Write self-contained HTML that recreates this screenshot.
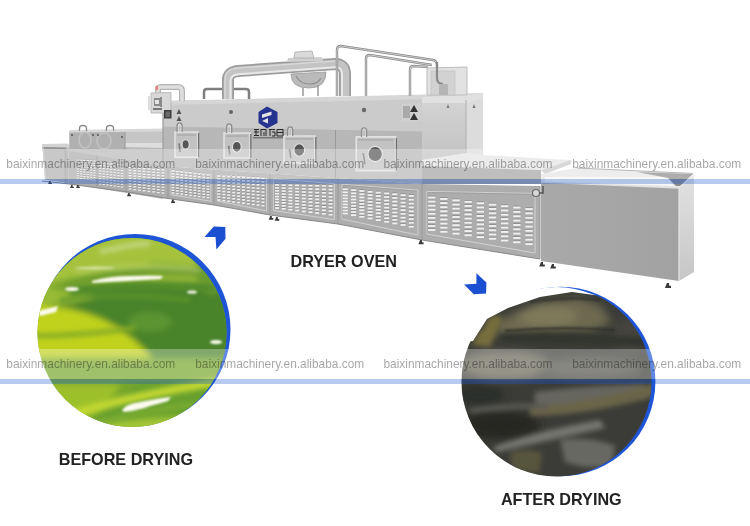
<!DOCTYPE html>
<html><head><meta charset="utf-8">
<style>
html,body{margin:0;padding:0;background:#fff;}
body{width:750px;height:526px;overflow:hidden;position:relative;font-family:"Liberation Sans",sans-serif;}
svg{position:absolute;left:0;top:0;}
</style></head><body>
<svg width="750" height="526" viewBox="0 0 750 526">
<rect width="750" height="526" fill="#fff"/>
<g id="machine">
<defs>
<linearGradient id="sideg" x1="0" y1="0" x2="0" y2="1"><stop offset="0" stop-color="#e2e2e2"/><stop offset="1" stop-color="#c6c6c6"/></linearGradient>
<linearGradient id="exitf" x1="0" y1="0" x2="1" y2="0"><stop offset="0" stop-color="#a9a9a9"/><stop offset="1" stop-color="#a2a2a2"/></linearGradient>
<linearGradient id="pipeg" x1="0" y1="0" x2="0" y2="1"><stop offset="0" stop-color="#9a9a9a"/><stop offset="0.35" stop-color="#e8e8e8"/><stop offset="0.7" stop-color="#c0c0c0"/><stop offset="1" stop-color="#8a8a8a"/></linearGradient>
<linearGradient id="pipev" x1="0" y1="0" x2="1" y2="0"><stop offset="0" stop-color="#9a9a9a"/><stop offset="0.4" stop-color="#e6e6e6"/><stop offset="0.75" stop-color="#bdbdbd"/><stop offset="1" stop-color="#8a8a8a"/></linearGradient>
</defs>
<polygon points="42.4,147 67,147.5 67,183 45,179.8" fill="#b0b0b0" />
<polygon points="42,144 67,143.5 72,146 72,148 42.4,148" fill="#d2d2d2" />
<polygon points="42.4,147 67,147.5 67,149 42.6,148.6" fill="#8e8e8e" />
<polygon points="42.4,147 43.8,147 46.2,179.8 45,179.8" fill="#c4c4c4" />
<polygon points="64.5,148 68,148 68,183 64.5,182.6" fill="#a0a0a0" />
<polygon points="69.5,131 163,129 163,199 66,183 66,148 69.5,148" fill="#b9b9b9" />
<polygon points="69.5,132 125,132.5 125,150 69.5,149" fill="#b0b0b0" />
<polygon points="125,131 163,131 163,143 125,143" fill="#c6c6c6" />
<polygon points="125,143 163,143 163,148 125,147" fill="#dedede" />
<polygon points="69.5,130 163,128.5 163,131.5 69.5,132.5" fill="#d8d8d8" />
<line x1="125" y1="132" x2="125" y2="150" stroke="#9a9a9a" stroke-width="1"/>
<path d="M79.5,131 v-2.5 q0,-3 3.5,-3 q3.5,0 3.5,3 v2.5" fill="none" stroke="#8a8a8a" stroke-width="1.4"/>
<path d="M80.5,131 v-2.5 q0,-2 2.5,-2 q2.5,0 2.5,2 v2.5" fill="none" stroke="#e6e6e6" stroke-width="0.6"/>
<path d="M106.5,131 v-2.5 q0,-3 3.5,-3 q3.5,0 3.5,3 v2.5" fill="none" stroke="#8a8a8a" stroke-width="1.4"/>
<path d="M107.5,131 v-2.5 q0,-2 2.5,-2 q2.5,0 2.5,2 v2.5" fill="none" stroke="#e6e6e6" stroke-width="0.6"/>
<ellipse cx="85" cy="140" rx="6" ry="8" fill="none" stroke="#c2c2c2" stroke-width="1.6"/>
<ellipse cx="104" cy="141" rx="7" ry="8" fill="none" stroke="#c2c2c2" stroke-width="1.6"/>
<circle cx="72" cy="135" r="1" fill="#555"/>
<circle cx="93" cy="135" r="1" fill="#555"/>
<circle cx="98" cy="135" r="1" fill="#555"/>
<circle cx="122" cy="137" r="1" fill="#555"/>
<polygon points="163,101 422,96 422,184 163,166" fill="#b7b7b7" />
<polygon points="163,104 422,99 422,131.5 163,126.5" fill="#cbcbcb" />
<polygon points="163,101 483,93 483,98 163,105" fill="#d6d6d6" />
<line x1="163" y1="101" x2="163" y2="166" stroke="#9a9a9a" stroke-width="1.2"/>
<line x1="335.5" y1="130" x2="335.5" y2="180" stroke="#9a9a9a" stroke-width="1"/>
<linearGradient id="rbf" x1="0" y1="0" x2="0" y2="1"><stop offset="0" stop-color="#d4d4d4"/><stop offset="1" stop-color="#c2c2c2"/></linearGradient>
<polygon points="422,99 466,98 466,154 422,160" fill="url(#rbf)" />
<polygon points="466,98 483,97 483,155 466,154" fill="#dcdcdc" />
<polygon points="422,97 466,95 483,94 483,98 466,103 422,103" fill="#e0e0e0" />
<line x1="466" y1="100" x2="466" y2="154" stroke="#b0b0b0" stroke-width="1"/>
<path d="M448,104 l1.5,4 h-3z M474,104 l1.5,4 h-3z" fill="#777"/>
<polygon points="401,104 421,103 421,121 401,122" fill="#cfcfcf" />
<path d="M414,105 l4,7 h-8z M414,113 l4,7 h-8z" fill="#333"/>
<rect x="403" y="106" width="7" height="12" fill="#aaa"/>
<polygon points="422,160 466,153 483,155 571,160 541,170 422,166" fill="#e4e4e4" />
<polygon points="422,166 541,170 541,184 422,184" fill="#a2a2a2" />
<polygon points="541,170 571,160 571,164 545,174" fill="#c8c8c8" />
<polygon points="69,151 163,166 422,184 540,186 540,259 422,240 338,224 270,215 214,205 168,198.5 128,192 69,184" fill="#adadad" />
<line x1="67" y1="151" x2="67" y2="183.778" stroke="#999" stroke-width="1"/>
<line x1="97" y1="155.468" x2="97" y2="187.797" stroke="#999" stroke-width="1"/>
<line x1="126" y1="160.096" x2="126" y2="191.729" stroke="#999" stroke-width="1"/>
<line x1="168" y1="166.347" x2="168" y2="198.5" stroke="#999" stroke-width="1"/>
<line x1="214" y1="169.544" x2="214" y2="205" stroke="#999" stroke-width="1"/>
<line x1="270" y1="173.436" x2="270" y2="215" stroke="#999" stroke-width="1"/>
<line x1="338" y1="178.162" x2="338" y2="224" stroke="#999" stroke-width="1"/>
<line x1="422" y1="184" x2="422" y2="240" stroke="#999" stroke-width="1"/>
<line x1="540" y1="186" x2="540" y2="259" stroke="#999" stroke-width="1"/>
<polygon points="171.15,171.072 210.85,174.269 210.85,201.22 171.15,194.72" fill="none" stroke="#d2d2d2" stroke-width="1"/>
<polyline points="172.15,193.72 172.15,172.072 209.85,175.269" fill="none" stroke="#9c9c9c" stroke-width="0.8"/>
<polygon points="217.4,174.644 266.6,178.536 266.6,210.92 217.4,200.92" fill="none" stroke="#d2d2d2" stroke-width="1"/>
<polyline points="218.4,199.92 218.4,175.644 265.6,179.536" fill="none" stroke="#9c9c9c" stroke-width="0.8"/>
<polygon points="273.7,178.986 334.3,183.712 334.3,219.56 273.7,210.56" fill="none" stroke="#d2d2d2" stroke-width="1"/>
<polyline points="274.7,209.56 274.7,179.986 333.3,184.712" fill="none" stroke="#9c9c9c" stroke-width="0.8"/>
<polygon points="342.1,184.312 417.9,190.15 417.9,235.08 342.1,219.08" fill="none" stroke="#d2d2d2" stroke-width="1"/>
<polyline points="343.1,218.08 343.1,185.312 416.9,191.15" fill="none" stroke="#9c9c9c" stroke-width="0.8"/>
<polygon points="426.95,191.425 535.05,193.425 535.05,253.06 426.95,234.06" fill="none" stroke="#d2d2d2" stroke-width="1"/>
<polyline points="427.95,233.06 427.95,192.425 534.05,194.425" fill="none" stroke="#9c9c9c" stroke-width="0.8"/>
<g fill="#8e8e8e"><rect x="76.8" y="158.6" width="2.0" height="0.9"/><rect x="76.8" y="160.8" width="2.0" height="0.9"/><rect x="76.8" y="163.1" width="2.0" height="0.9"/><rect x="76.8" y="165.3" width="2.0" height="0.9"/><rect x="76.8" y="167.6" width="2.0" height="0.9"/><rect x="76.8" y="169.8" width="2.0" height="0.9"/><rect x="76.8" y="172.1" width="2.0" height="0.9"/><rect x="76.8" y="174.3" width="2.0" height="0.9"/><rect x="76.8" y="176.6" width="2.0" height="0.9"/><rect x="80.1" y="158.8" width="2.0" height="0.9"/><rect x="80.1" y="161.1" width="2.0" height="0.9"/><rect x="80.1" y="163.3" width="2.0" height="0.9"/><rect x="80.1" y="165.6" width="2.0" height="0.9"/><rect x="80.1" y="167.9" width="2.0" height="0.9"/><rect x="80.1" y="170.2" width="2.0" height="0.9"/><rect x="80.1" y="172.4" width="2.0" height="0.9"/><rect x="80.1" y="174.7" width="2.0" height="0.9"/><rect x="80.1" y="177.0" width="2.0" height="0.9"/><rect x="83.4" y="159.0" width="2.0" height="0.9"/><rect x="83.4" y="161.3" width="2.0" height="0.9"/><rect x="83.4" y="163.6" width="2.0" height="0.9"/><rect x="83.4" y="165.9" width="2.0" height="0.9"/><rect x="83.4" y="168.2" width="2.0" height="0.9"/><rect x="83.4" y="170.5" width="2.0" height="0.9"/><rect x="83.4" y="172.8" width="2.0" height="0.9"/><rect x="83.4" y="175.1" width="2.0" height="0.9"/><rect x="83.4" y="177.4" width="2.0" height="0.9"/><rect x="86.8" y="159.2" width="2.0" height="0.9"/><rect x="86.8" y="161.5" width="2.0" height="0.9"/><rect x="86.8" y="163.8" width="2.0" height="0.9"/><rect x="86.8" y="166.2" width="2.0" height="0.9"/><rect x="86.8" y="168.5" width="2.0" height="0.9"/><rect x="86.8" y="170.8" width="2.0" height="0.9"/><rect x="86.8" y="173.1" width="2.0" height="0.9"/><rect x="86.8" y="175.5" width="2.0" height="0.9"/><rect x="86.8" y="177.8" width="2.0" height="0.9"/><rect x="90.1" y="159.4" width="2.0" height="0.9"/><rect x="90.1" y="161.8" width="2.0" height="0.9"/><rect x="90.1" y="164.1" width="2.0" height="0.9"/><rect x="90.1" y="166.4" width="2.0" height="0.9"/><rect x="90.1" y="168.8" width="2.0" height="0.9"/><rect x="90.1" y="171.2" width="2.0" height="0.9"/><rect x="90.1" y="173.5" width="2.0" height="0.9"/><rect x="90.1" y="175.8" width="2.0" height="0.9"/><rect x="90.1" y="178.2" width="2.0" height="0.9"/><rect x="93.4" y="159.6" width="2.0" height="0.9"/><rect x="93.4" y="162.0" width="2.0" height="0.9"/><rect x="93.4" y="164.3" width="2.0" height="0.9"/><rect x="93.4" y="166.7" width="2.0" height="0.9"/><rect x="93.4" y="169.1" width="2.0" height="0.9"/><rect x="93.4" y="171.5" width="2.0" height="0.9"/><rect x="93.4" y="173.8" width="2.0" height="0.9"/><rect x="93.4" y="176.2" width="2.0" height="0.9"/><rect x="93.4" y="178.6" width="2.0" height="0.9"/><rect x="99.1" y="161.5" width="2.2" height="0.9"/><rect x="99.1" y="164.2" width="2.2" height="0.9"/><rect x="99.1" y="166.8" width="2.2" height="0.9"/><rect x="99.1" y="169.4" width="2.2" height="0.9"/><rect x="99.1" y="172.0" width="2.2" height="0.9"/><rect x="99.1" y="174.7" width="2.2" height="0.9"/><rect x="99.1" y="177.3" width="2.2" height="0.9"/><rect x="99.1" y="179.9" width="2.2" height="0.9"/><rect x="99.1" y="182.5" width="2.2" height="0.9"/><rect x="102.7" y="161.9" width="2.2" height="0.9"/><rect x="102.7" y="164.5" width="2.2" height="0.9"/><rect x="102.7" y="167.2" width="2.2" height="0.9"/><rect x="102.7" y="169.8" width="2.2" height="0.9"/><rect x="102.7" y="172.5" width="2.2" height="0.9"/><rect x="102.7" y="175.1" width="2.2" height="0.9"/><rect x="102.7" y="177.8" width="2.2" height="0.9"/><rect x="102.7" y="180.4" width="2.2" height="0.9"/><rect x="102.7" y="183.0" width="2.2" height="0.9"/><rect x="106.4" y="162.2" width="2.2" height="0.9"/><rect x="106.4" y="164.9" width="2.2" height="0.9"/><rect x="106.4" y="167.5" width="2.2" height="0.9"/><rect x="106.4" y="170.2" width="2.2" height="0.9"/><rect x="106.4" y="172.9" width="2.2" height="0.9"/><rect x="106.4" y="175.5" width="2.2" height="0.9"/><rect x="106.4" y="178.2" width="2.2" height="0.9"/><rect x="106.4" y="180.9" width="2.2" height="0.9"/><rect x="106.4" y="183.5" width="2.2" height="0.9"/><rect x="110.0" y="162.5" width="2.2" height="0.9"/><rect x="110.0" y="165.2" width="2.2" height="0.9"/><rect x="110.0" y="167.9" width="2.2" height="0.9"/><rect x="110.0" y="170.6" width="2.2" height="0.9"/><rect x="110.0" y="173.3" width="2.2" height="0.9"/><rect x="110.0" y="176.0" width="2.2" height="0.9"/><rect x="110.0" y="178.7" width="2.2" height="0.9"/><rect x="110.0" y="181.4" width="2.2" height="0.9"/><rect x="110.0" y="184.0" width="2.2" height="0.9"/><rect x="113.6" y="162.9" width="2.2" height="0.9"/><rect x="113.6" y="165.6" width="2.2" height="0.9"/><rect x="113.6" y="168.3" width="2.2" height="0.9"/><rect x="113.6" y="171.0" width="2.2" height="0.9"/><rect x="113.6" y="173.7" width="2.2" height="0.9"/><rect x="113.6" y="176.4" width="2.2" height="0.9"/><rect x="113.6" y="179.1" width="2.2" height="0.9"/><rect x="113.6" y="181.8" width="2.2" height="0.9"/><rect x="113.6" y="184.5" width="2.2" height="0.9"/><rect x="117.3" y="163.2" width="2.2" height="0.9"/><rect x="117.3" y="165.9" width="2.2" height="0.9"/><rect x="117.3" y="168.7" width="2.2" height="0.9"/><rect x="117.3" y="171.4" width="2.2" height="0.9"/><rect x="117.3" y="174.1" width="2.2" height="0.9"/><rect x="117.3" y="176.9" width="2.2" height="0.9"/><rect x="117.3" y="179.6" width="2.2" height="0.9"/><rect x="117.3" y="182.3" width="2.2" height="0.9"/><rect x="117.3" y="185.0" width="2.2" height="0.9"/><rect x="120.9" y="163.5" width="2.2" height="0.9"/><rect x="120.9" y="166.3" width="2.2" height="0.9"/><rect x="120.9" y="169.0" width="2.2" height="0.9"/><rect x="120.9" y="171.8" width="2.2" height="0.9"/><rect x="120.9" y="174.5" width="2.2" height="0.9"/><rect x="120.9" y="177.3" width="2.2" height="0.9"/><rect x="120.9" y="180.0" width="2.2" height="0.9"/><rect x="120.9" y="182.8" width="2.2" height="0.9"/><rect x="120.9" y="185.5" width="2.2" height="0.9"/><rect x="128.6" y="166.0" width="2.8" height="0.9"/><rect x="128.6" y="168.7" width="2.8" height="0.9"/><rect x="128.6" y="171.4" width="2.8" height="0.9"/><rect x="128.6" y="174.1" width="2.8" height="0.9"/><rect x="128.6" y="176.8" width="2.8" height="0.9"/><rect x="128.6" y="179.4" width="2.8" height="0.9"/><rect x="128.6" y="182.1" width="2.8" height="0.9"/><rect x="128.6" y="184.8" width="2.8" height="0.9"/><rect x="128.6" y="187.4" width="2.8" height="0.9"/><rect x="133.3" y="166.4" width="2.8" height="0.9"/><rect x="133.3" y="169.1" width="2.8" height="0.9"/><rect x="133.3" y="171.8" width="2.8" height="0.9"/><rect x="133.3" y="174.5" width="2.8" height="0.9"/><rect x="133.3" y="177.2" width="2.8" height="0.9"/><rect x="133.3" y="179.9" width="2.8" height="0.9"/><rect x="133.3" y="182.6" width="2.8" height="0.9"/><rect x="133.3" y="185.3" width="2.8" height="0.9"/><rect x="133.3" y="188.0" width="2.8" height="0.9"/><rect x="138.0" y="166.7" width="2.8" height="0.9"/><rect x="138.0" y="169.5" width="2.8" height="0.9"/><rect x="138.0" y="172.2" width="2.8" height="0.9"/><rect x="138.0" y="174.9" width="2.8" height="0.9"/><rect x="138.0" y="177.7" width="2.8" height="0.9"/><rect x="138.0" y="180.4" width="2.8" height="0.9"/><rect x="138.0" y="183.1" width="2.8" height="0.9"/><rect x="138.0" y="185.9" width="2.8" height="0.9"/><rect x="138.0" y="188.6" width="2.8" height="0.9"/><rect x="142.7" y="167.1" width="2.8" height="0.9"/><rect x="142.7" y="169.8" width="2.8" height="0.9"/><rect x="142.7" y="172.6" width="2.8" height="0.9"/><rect x="142.7" y="175.4" width="2.8" height="0.9"/><rect x="142.7" y="178.1" width="2.8" height="0.9"/><rect x="142.7" y="180.9" width="2.8" height="0.9"/><rect x="142.7" y="183.6" width="2.8" height="0.9"/><rect x="142.7" y="186.4" width="2.8" height="0.9"/><rect x="142.7" y="189.2" width="2.8" height="0.9"/><rect x="147.4" y="167.4" width="2.8" height="0.9"/><rect x="147.4" y="170.2" width="2.8" height="0.9"/><rect x="147.4" y="173.0" width="2.8" height="0.9"/><rect x="147.4" y="175.8" width="2.8" height="0.9"/><rect x="147.4" y="178.6" width="2.8" height="0.9"/><rect x="147.4" y="181.4" width="2.8" height="0.9"/><rect x="147.4" y="184.2" width="2.8" height="0.9"/><rect x="147.4" y="186.9" width="2.8" height="0.9"/><rect x="147.4" y="189.7" width="2.8" height="0.9"/><rect x="152.2" y="167.8" width="2.8" height="0.9"/><rect x="152.2" y="170.6" width="2.8" height="0.9"/><rect x="152.2" y="173.4" width="2.8" height="0.9"/><rect x="152.2" y="176.2" width="2.8" height="0.9"/><rect x="152.2" y="179.0" width="2.8" height="0.9"/><rect x="152.2" y="181.9" width="2.8" height="0.9"/><rect x="152.2" y="184.7" width="2.8" height="0.9"/><rect x="152.2" y="187.5" width="2.8" height="0.9"/><rect x="152.2" y="190.3" width="2.8" height="0.9"/><rect x="156.9" y="168.1" width="2.8" height="0.9"/><rect x="156.9" y="171.0" width="2.8" height="0.9"/><rect x="156.9" y="173.8" width="2.8" height="0.9"/><rect x="156.9" y="176.6" width="2.8" height="0.9"/><rect x="156.9" y="179.5" width="2.8" height="0.9"/><rect x="156.9" y="182.3" width="2.8" height="0.9"/><rect x="156.9" y="185.2" width="2.8" height="0.9"/><rect x="156.9" y="188.0" width="2.8" height="0.9"/><rect x="156.9" y="190.9" width="2.8" height="0.9"/><rect x="161.6" y="168.4" width="2.8" height="0.9"/><rect x="161.6" y="171.3" width="2.8" height="0.9"/><rect x="161.6" y="174.2" width="2.8" height="0.9"/><rect x="161.6" y="177.1" width="2.8" height="0.9"/><rect x="161.6" y="179.9" width="2.8" height="0.9"/><rect x="161.6" y="182.8" width="2.8" height="0.9"/><rect x="161.6" y="185.7" width="2.8" height="0.9"/><rect x="161.6" y="188.6" width="2.8" height="0.9"/><rect x="161.6" y="191.4" width="2.8" height="0.9"/><rect x="171.7" y="169.3" width="2.6" height="0.9"/><rect x="171.7" y="172.1" width="2.6" height="0.9"/><rect x="171.7" y="174.8" width="2.6" height="0.9"/><rect x="171.7" y="177.6" width="2.6" height="0.9"/><rect x="171.7" y="180.3" width="2.6" height="0.9"/><rect x="171.7" y="183.1" width="2.6" height="0.9"/><rect x="171.7" y="185.8" width="2.6" height="0.9"/><rect x="171.7" y="188.6" width="2.6" height="0.9"/><rect x="171.7" y="191.3" width="2.6" height="0.9"/><rect x="176.1" y="169.8" width="2.6" height="0.9"/><rect x="176.1" y="172.6" width="2.6" height="0.9"/><rect x="176.1" y="175.4" width="2.6" height="0.9"/><rect x="176.1" y="178.1" width="2.6" height="0.9"/><rect x="176.1" y="180.9" width="2.6" height="0.9"/><rect x="176.1" y="183.6" width="2.6" height="0.9"/><rect x="176.1" y="186.4" width="2.6" height="0.9"/><rect x="176.1" y="189.2" width="2.6" height="0.9"/><rect x="176.1" y="191.9" width="2.6" height="0.9"/><rect x="180.4" y="170.3" width="2.6" height="0.9"/><rect x="180.4" y="173.1" width="2.6" height="0.9"/><rect x="180.4" y="175.9" width="2.6" height="0.9"/><rect x="180.4" y="178.7" width="2.6" height="0.9"/><rect x="180.4" y="181.4" width="2.6" height="0.9"/><rect x="180.4" y="184.2" width="2.6" height="0.9"/><rect x="180.4" y="187.0" width="2.6" height="0.9"/><rect x="180.4" y="189.7" width="2.6" height="0.9"/><rect x="180.4" y="192.5" width="2.6" height="0.9"/><rect x="184.8" y="170.8" width="2.6" height="0.9"/><rect x="184.8" y="173.6" width="2.6" height="0.9"/><rect x="184.8" y="176.4" width="2.6" height="0.9"/><rect x="184.8" y="179.2" width="2.6" height="0.9"/><rect x="184.8" y="182.0" width="2.6" height="0.9"/><rect x="184.8" y="184.7" width="2.6" height="0.9"/><rect x="184.8" y="187.5" width="2.6" height="0.9"/><rect x="184.8" y="190.3" width="2.6" height="0.9"/><rect x="184.8" y="193.1" width="2.6" height="0.9"/><rect x="189.2" y="171.3" width="2.6" height="0.9"/><rect x="189.2" y="174.1" width="2.6" height="0.9"/><rect x="189.2" y="176.9" width="2.6" height="0.9"/><rect x="189.2" y="179.7" width="2.6" height="0.9"/><rect x="189.2" y="182.5" width="2.6" height="0.9"/><rect x="189.2" y="185.3" width="2.6" height="0.9"/><rect x="189.2" y="188.1" width="2.6" height="0.9"/><rect x="189.2" y="190.9" width="2.6" height="0.9"/><rect x="189.2" y="193.7" width="2.6" height="0.9"/><rect x="193.6" y="171.8" width="2.6" height="0.9"/><rect x="193.6" y="174.6" width="2.6" height="0.9"/><rect x="193.6" y="177.4" width="2.6" height="0.9"/><rect x="193.6" y="180.2" width="2.6" height="0.9"/><rect x="193.6" y="183.0" width="2.6" height="0.9"/><rect x="193.6" y="185.8" width="2.6" height="0.9"/><rect x="193.6" y="188.6" width="2.6" height="0.9"/><rect x="193.6" y="191.4" width="2.6" height="0.9"/><rect x="193.6" y="194.2" width="2.6" height="0.9"/><rect x="197.9" y="172.3" width="2.6" height="0.9"/><rect x="197.9" y="175.2" width="2.6" height="0.9"/><rect x="197.9" y="178.0" width="2.6" height="0.9"/><rect x="197.9" y="180.8" width="2.6" height="0.9"/><rect x="197.9" y="183.6" width="2.6" height="0.9"/><rect x="197.9" y="186.4" width="2.6" height="0.9"/><rect x="197.9" y="189.2" width="2.6" height="0.9"/><rect x="197.9" y="192.0" width="2.6" height="0.9"/><rect x="197.9" y="194.8" width="2.6" height="0.9"/><rect x="202.3" y="172.8" width="2.6" height="0.9"/><rect x="202.3" y="175.7" width="2.6" height="0.9"/><rect x="202.3" y="178.5" width="2.6" height="0.9"/><rect x="202.3" y="181.3" width="2.6" height="0.9"/><rect x="202.3" y="184.1" width="2.6" height="0.9"/><rect x="202.3" y="186.9" width="2.6" height="0.9"/><rect x="202.3" y="189.7" width="2.6" height="0.9"/><rect x="202.3" y="192.6" width="2.6" height="0.9"/><rect x="202.3" y="195.4" width="2.6" height="0.9"/><rect x="206.7" y="173.3" width="2.6" height="0.9"/><rect x="206.7" y="176.2" width="2.6" height="0.9"/><rect x="206.7" y="179.0" width="2.6" height="0.9"/><rect x="206.7" y="181.8" width="2.6" height="0.9"/><rect x="206.7" y="184.7" width="2.6" height="0.9"/><rect x="206.7" y="187.5" width="2.6" height="0.9"/><rect x="206.7" y="190.3" width="2.6" height="0.9"/><rect x="206.7" y="193.1" width="2.6" height="0.9"/><rect x="206.7" y="195.9" width="2.6" height="0.9"/><rect x="217.5" y="174.3" width="2.9" height="0.9"/><rect x="217.5" y="177.3" width="2.9" height="0.9"/><rect x="217.5" y="180.3" width="2.9" height="0.9"/><rect x="217.5" y="183.3" width="2.9" height="0.9"/><rect x="217.5" y="186.3" width="2.9" height="0.9"/><rect x="217.5" y="189.3" width="2.9" height="0.9"/><rect x="217.5" y="192.3" width="2.9" height="0.9"/><rect x="217.5" y="195.3" width="2.9" height="0.9"/><rect x="217.5" y="198.3" width="2.9" height="0.9"/><rect x="222.4" y="174.6" width="2.9" height="0.9"/><rect x="222.4" y="177.6" width="2.9" height="0.9"/><rect x="222.4" y="180.7" width="2.9" height="0.9"/><rect x="222.4" y="183.7" width="2.9" height="0.9"/><rect x="222.4" y="186.7" width="2.9" height="0.9"/><rect x="222.4" y="189.8" width="2.9" height="0.9"/><rect x="222.4" y="192.8" width="2.9" height="0.9"/><rect x="222.4" y="195.9" width="2.9" height="0.9"/><rect x="222.4" y="198.9" width="2.9" height="0.9"/><rect x="227.3" y="174.8" width="2.9" height="0.9"/><rect x="227.3" y="177.9" width="2.9" height="0.9"/><rect x="227.3" y="181.0" width="2.9" height="0.9"/><rect x="227.3" y="184.1" width="2.9" height="0.9"/><rect x="227.3" y="187.2" width="2.9" height="0.9"/><rect x="227.3" y="190.3" width="2.9" height="0.9"/><rect x="227.3" y="193.4" width="2.9" height="0.9"/><rect x="227.3" y="196.5" width="2.9" height="0.9"/><rect x="227.3" y="199.5" width="2.9" height="0.9"/><rect x="232.2" y="175.1" width="2.9" height="0.9"/><rect x="232.2" y="178.2" width="2.9" height="0.9"/><rect x="232.2" y="181.4" width="2.9" height="0.9"/><rect x="232.2" y="184.5" width="2.9" height="0.9"/><rect x="232.2" y="187.6" width="2.9" height="0.9"/><rect x="232.2" y="190.8" width="2.9" height="0.9"/><rect x="232.2" y="193.9" width="2.9" height="0.9"/><rect x="232.2" y="197.0" width="2.9" height="0.9"/><rect x="232.2" y="200.2" width="2.9" height="0.9"/><rect x="237.1" y="175.4" width="2.9" height="0.9"/><rect x="237.1" y="178.5" width="2.9" height="0.9"/><rect x="237.1" y="181.7" width="2.9" height="0.9"/><rect x="237.1" y="184.9" width="2.9" height="0.9"/><rect x="237.1" y="188.1" width="2.9" height="0.9"/><rect x="237.1" y="191.3" width="2.9" height="0.9"/><rect x="237.1" y="194.4" width="2.9" height="0.9"/><rect x="237.1" y="197.6" width="2.9" height="0.9"/><rect x="237.1" y="200.8" width="2.9" height="0.9"/><rect x="242.0" y="175.6" width="2.9" height="0.9"/><rect x="242.0" y="178.9" width="2.9" height="0.9"/><rect x="242.0" y="182.1" width="2.9" height="0.9"/><rect x="242.0" y="185.3" width="2.9" height="0.9"/><rect x="242.0" y="188.5" width="2.9" height="0.9"/><rect x="242.0" y="191.7" width="2.9" height="0.9"/><rect x="242.0" y="195.0" width="2.9" height="0.9"/><rect x="242.0" y="198.2" width="2.9" height="0.9"/><rect x="242.0" y="201.4" width="2.9" height="0.9"/><rect x="246.9" y="175.9" width="2.9" height="0.9"/><rect x="246.9" y="179.2" width="2.9" height="0.9"/><rect x="246.9" y="182.4" width="2.9" height="0.9"/><rect x="246.9" y="185.7" width="2.9" height="0.9"/><rect x="246.9" y="189.0" width="2.9" height="0.9"/><rect x="246.9" y="192.2" width="2.9" height="0.9"/><rect x="246.9" y="195.5" width="2.9" height="0.9"/><rect x="246.9" y="198.8" width="2.9" height="0.9"/><rect x="246.9" y="202.0" width="2.9" height="0.9"/><rect x="251.8" y="176.2" width="2.9" height="0.9"/><rect x="251.8" y="179.5" width="2.9" height="0.9"/><rect x="251.8" y="182.8" width="2.9" height="0.9"/><rect x="251.8" y="186.1" width="2.9" height="0.9"/><rect x="251.8" y="189.4" width="2.9" height="0.9"/><rect x="251.8" y="192.7" width="2.9" height="0.9"/><rect x="251.8" y="196.0" width="2.9" height="0.9"/><rect x="251.8" y="199.3" width="2.9" height="0.9"/><rect x="251.8" y="202.7" width="2.9" height="0.9"/><rect x="256.6" y="176.4" width="2.9" height="0.9"/><rect x="256.6" y="179.8" width="2.9" height="0.9"/><rect x="256.6" y="183.1" width="2.9" height="0.9"/><rect x="256.6" y="186.5" width="2.9" height="0.9"/><rect x="256.6" y="189.9" width="2.9" height="0.9"/><rect x="256.6" y="193.2" width="2.9" height="0.9"/><rect x="256.6" y="196.6" width="2.9" height="0.9"/><rect x="256.6" y="199.9" width="2.9" height="0.9"/><rect x="256.6" y="203.3" width="2.9" height="0.9"/><rect x="261.5" y="176.7" width="2.9" height="0.9"/><rect x="261.5" y="180.1" width="2.9" height="0.9"/><rect x="261.5" y="183.5" width="2.9" height="0.9"/><rect x="261.5" y="186.9" width="2.9" height="0.9"/><rect x="261.5" y="190.3" width="2.9" height="0.9"/><rect x="261.5" y="193.7" width="2.9" height="0.9"/><rect x="261.5" y="197.1" width="2.9" height="0.9"/><rect x="261.5" y="200.5" width="2.9" height="0.9"/><rect x="261.5" y="203.9" width="2.9" height="0.9"/><rect x="275.0" y="183.2" width="4.0" height="0.9"/><rect x="275.0" y="186.1" width="4.0" height="0.9"/><rect x="275.0" y="189.0" width="4.0" height="0.9"/><rect x="275.0" y="191.9" width="4.0" height="0.9"/><rect x="275.0" y="194.8" width="4.0" height="0.9"/><rect x="275.0" y="197.6" width="4.0" height="0.9"/><rect x="275.0" y="200.5" width="4.0" height="0.9"/><rect x="275.0" y="203.4" width="4.0" height="0.9"/><rect x="275.0" y="206.2" width="4.0" height="0.9"/><rect x="281.7" y="183.4" width="4.0" height="0.9"/><rect x="281.7" y="186.3" width="4.0" height="0.9"/><rect x="281.7" y="189.3" width="4.0" height="0.9"/><rect x="281.7" y="192.3" width="4.0" height="0.9"/><rect x="281.7" y="195.2" width="4.0" height="0.9"/><rect x="281.7" y="198.2" width="4.0" height="0.9"/><rect x="281.7" y="201.1" width="4.0" height="0.9"/><rect x="281.7" y="204.1" width="4.0" height="0.9"/><rect x="281.7" y="207.1" width="4.0" height="0.9"/><rect x="288.4" y="183.5" width="4.0" height="0.9"/><rect x="288.4" y="186.6" width="4.0" height="0.9"/><rect x="288.4" y="189.6" width="4.0" height="0.9"/><rect x="288.4" y="192.7" width="4.0" height="0.9"/><rect x="288.4" y="195.7" width="4.0" height="0.9"/><rect x="288.4" y="198.8" width="4.0" height="0.9"/><rect x="288.4" y="201.8" width="4.0" height="0.9"/><rect x="288.4" y="204.8" width="4.0" height="0.9"/><rect x="288.4" y="207.9" width="4.0" height="0.9"/><rect x="295.1" y="183.6" width="4.0" height="0.9"/><rect x="295.1" y="186.8" width="4.0" height="0.9"/><rect x="295.1" y="189.9" width="4.0" height="0.9"/><rect x="295.1" y="193.0" width="4.0" height="0.9"/><rect x="295.1" y="196.2" width="4.0" height="0.9"/><rect x="295.1" y="199.3" width="4.0" height="0.9"/><rect x="295.1" y="202.4" width="4.0" height="0.9"/><rect x="295.1" y="205.6" width="4.0" height="0.9"/><rect x="295.1" y="208.7" width="4.0" height="0.9"/><rect x="301.8" y="183.8" width="4.0" height="0.9"/><rect x="301.8" y="187.0" width="4.0" height="0.9"/><rect x="301.8" y="190.2" width="4.0" height="0.9"/><rect x="301.8" y="193.4" width="4.0" height="0.9"/><rect x="301.8" y="196.7" width="4.0" height="0.9"/><rect x="301.8" y="199.9" width="4.0" height="0.9"/><rect x="301.8" y="203.1" width="4.0" height="0.9"/><rect x="301.8" y="206.3" width="4.0" height="0.9"/><rect x="301.8" y="209.6" width="4.0" height="0.9"/><rect x="308.5" y="183.9" width="4.0" height="0.9"/><rect x="308.5" y="187.2" width="4.0" height="0.9"/><rect x="308.5" y="190.5" width="4.0" height="0.9"/><rect x="308.5" y="193.8" width="4.0" height="0.9"/><rect x="308.5" y="197.1" width="4.0" height="0.9"/><rect x="308.5" y="200.4" width="4.0" height="0.9"/><rect x="308.5" y="203.8" width="4.0" height="0.9"/><rect x="308.5" y="207.1" width="4.0" height="0.9"/><rect x="308.5" y="210.4" width="4.0" height="0.9"/><rect x="315.2" y="184.0" width="4.0" height="0.9"/><rect x="315.2" y="187.4" width="4.0" height="0.9"/><rect x="315.2" y="190.8" width="4.0" height="0.9"/><rect x="315.2" y="194.2" width="4.0" height="0.9"/><rect x="315.2" y="197.6" width="4.0" height="0.9"/><rect x="315.2" y="201.0" width="4.0" height="0.9"/><rect x="315.2" y="204.4" width="4.0" height="0.9"/><rect x="315.2" y="207.8" width="4.0" height="0.9"/><rect x="315.2" y="211.2" width="4.0" height="0.9"/><rect x="321.9" y="184.1" width="4.0" height="0.9"/><rect x="321.9" y="187.6" width="4.0" height="0.9"/><rect x="321.9" y="191.1" width="4.0" height="0.9"/><rect x="321.9" y="194.6" width="4.0" height="0.9"/><rect x="321.9" y="198.1" width="4.0" height="0.9"/><rect x="321.9" y="201.6" width="4.0" height="0.9"/><rect x="321.9" y="205.1" width="4.0" height="0.9"/><rect x="321.9" y="208.5" width="4.0" height="0.9"/><rect x="321.9" y="212.0" width="4.0" height="0.9"/><rect x="328.6" y="184.2" width="4.0" height="0.9"/><rect x="328.6" y="187.8" width="4.0" height="0.9"/><rect x="328.6" y="191.4" width="4.0" height="0.9"/><rect x="328.6" y="195.0" width="4.0" height="0.9"/><rect x="328.6" y="198.6" width="4.0" height="0.9"/><rect x="328.6" y="202.1" width="4.0" height="0.9"/><rect x="328.6" y="205.7" width="4.0" height="0.9"/><rect x="328.6" y="209.3" width="4.0" height="0.9"/><rect x="328.6" y="212.8" width="4.0" height="0.9"/><rect x="342.8" y="187.5" width="5.0" height="0.9"/><rect x="342.8" y="190.5" width="5.0" height="0.9"/><rect x="342.8" y="193.6" width="5.0" height="0.9"/><rect x="342.8" y="196.6" width="5.0" height="0.9"/><rect x="342.8" y="199.6" width="5.0" height="0.9"/><rect x="342.8" y="202.6" width="5.0" height="0.9"/><rect x="342.8" y="205.6" width="5.0" height="0.9"/><rect x="342.8" y="208.7" width="5.0" height="0.9"/><rect x="342.8" y="211.7" width="5.0" height="0.9"/><rect x="351.1" y="188.3" width="5.0" height="0.9"/><rect x="351.1" y="191.5" width="5.0" height="0.9"/><rect x="351.1" y="194.6" width="5.0" height="0.9"/><rect x="351.1" y="197.7" width="5.0" height="0.9"/><rect x="351.1" y="200.8" width="5.0" height="0.9"/><rect x="351.1" y="204.0" width="5.0" height="0.9"/><rect x="351.1" y="207.1" width="5.0" height="0.9"/><rect x="351.1" y="210.2" width="5.0" height="0.9"/><rect x="351.1" y="213.3" width="5.0" height="0.9"/><rect x="359.3" y="189.2" width="5.0" height="0.9"/><rect x="359.3" y="192.4" width="5.0" height="0.9"/><rect x="359.3" y="195.6" width="5.0" height="0.9"/><rect x="359.3" y="198.8" width="5.0" height="0.9"/><rect x="359.3" y="202.1" width="5.0" height="0.9"/><rect x="359.3" y="205.3" width="5.0" height="0.9"/><rect x="359.3" y="208.5" width="5.0" height="0.9"/><rect x="359.3" y="211.8" width="5.0" height="0.9"/><rect x="359.3" y="215.0" width="5.0" height="0.9"/><rect x="367.6" y="190.0" width="5.0" height="0.9"/><rect x="367.6" y="193.3" width="5.0" height="0.9"/><rect x="367.6" y="196.6" width="5.0" height="0.9"/><rect x="367.6" y="200.0" width="5.0" height="0.9"/><rect x="367.6" y="203.3" width="5.0" height="0.9"/><rect x="367.6" y="206.6" width="5.0" height="0.9"/><rect x="367.6" y="210.0" width="5.0" height="0.9"/><rect x="367.6" y="213.3" width="5.0" height="0.9"/><rect x="367.6" y="216.6" width="5.0" height="0.9"/><rect x="375.8" y="190.8" width="5.0" height="0.9"/><rect x="375.8" y="194.2" width="5.0" height="0.9"/><rect x="375.8" y="197.7" width="5.0" height="0.9"/><rect x="375.8" y="201.1" width="5.0" height="0.9"/><rect x="375.8" y="204.6" width="5.0" height="0.9"/><rect x="375.8" y="208.0" width="5.0" height="0.9"/><rect x="375.8" y="211.4" width="5.0" height="0.9"/><rect x="375.8" y="214.9" width="5.0" height="0.9"/><rect x="375.8" y="218.3" width="5.0" height="0.9"/><rect x="384.1" y="191.6" width="5.0" height="0.9"/><rect x="384.1" y="195.2" width="5.0" height="0.9"/><rect x="384.1" y="198.7" width="5.0" height="0.9"/><rect x="384.1" y="202.2" width="5.0" height="0.9"/><rect x="384.1" y="205.8" width="5.0" height="0.9"/><rect x="384.1" y="209.3" width="5.0" height="0.9"/><rect x="384.1" y="212.9" width="5.0" height="0.9"/><rect x="384.1" y="216.4" width="5.0" height="0.9"/><rect x="384.1" y="219.9" width="5.0" height="0.9"/><rect x="392.3" y="192.4" width="5.0" height="0.9"/><rect x="392.3" y="196.1" width="5.0" height="0.9"/><rect x="392.3" y="199.7" width="5.0" height="0.9"/><rect x="392.3" y="203.4" width="5.0" height="0.9"/><rect x="392.3" y="207.0" width="5.0" height="0.9"/><rect x="392.3" y="210.7" width="5.0" height="0.9"/><rect x="392.3" y="214.3" width="5.0" height="0.9"/><rect x="392.3" y="218.0" width="5.0" height="0.9"/><rect x="392.3" y="221.6" width="5.0" height="0.9"/><rect x="400.6" y="193.3" width="5.0" height="0.9"/><rect x="400.6" y="197.0" width="5.0" height="0.9"/><rect x="400.6" y="200.8" width="5.0" height="0.9"/><rect x="400.6" y="204.5" width="5.0" height="0.9"/><rect x="400.6" y="208.3" width="5.0" height="0.9"/><rect x="400.6" y="212.0" width="5.0" height="0.9"/><rect x="400.6" y="215.8" width="5.0" height="0.9"/><rect x="400.6" y="219.5" width="5.0" height="0.9"/><rect x="400.6" y="223.2" width="5.0" height="0.9"/><rect x="408.8" y="194.1" width="5.0" height="0.9"/><rect x="408.8" y="197.9" width="5.0" height="0.9"/><rect x="408.8" y="201.8" width="5.0" height="0.9"/><rect x="408.8" y="205.6" width="5.0" height="0.9"/><rect x="408.8" y="209.5" width="5.0" height="0.9"/><rect x="408.8" y="213.3" width="5.0" height="0.9"/><rect x="408.8" y="217.2" width="5.0" height="0.9"/><rect x="408.8" y="221.0" width="5.0" height="0.9"/><rect x="408.8" y="224.9" width="5.0" height="0.9"/><rect x="428.1" y="195.7" width="7.3" height="0.9"/><rect x="428.1" y="199.7" width="7.3" height="0.9"/><rect x="428.1" y="203.8" width="7.3" height="0.9"/><rect x="428.1" y="207.8" width="7.3" height="0.9"/><rect x="428.1" y="211.9" width="7.3" height="0.9"/><rect x="428.1" y="216.0" width="7.3" height="0.9"/><rect x="428.1" y="220.0" width="7.3" height="0.9"/><rect x="428.1" y="224.1" width="7.3" height="0.9"/><rect x="428.1" y="228.2" width="7.3" height="0.9"/><rect x="440.2" y="197.1" width="7.3" height="0.9"/><rect x="440.2" y="201.2" width="7.3" height="0.9"/><rect x="440.2" y="205.3" width="7.3" height="0.9"/><rect x="440.2" y="209.4" width="7.3" height="0.9"/><rect x="440.2" y="213.5" width="7.3" height="0.9"/><rect x="440.2" y="217.6" width="7.3" height="0.9"/><rect x="440.2" y="221.7" width="7.3" height="0.9"/><rect x="440.2" y="225.8" width="7.3" height="0.9"/><rect x="440.2" y="229.9" width="7.3" height="0.9"/><rect x="452.4" y="198.5" width="7.3" height="0.9"/><rect x="452.4" y="202.7" width="7.3" height="0.9"/><rect x="452.4" y="206.8" width="7.3" height="0.9"/><rect x="452.4" y="210.9" width="7.3" height="0.9"/><rect x="452.4" y="215.1" width="7.3" height="0.9"/><rect x="452.4" y="219.2" width="7.3" height="0.9"/><rect x="452.4" y="223.4" width="7.3" height="0.9"/><rect x="452.4" y="227.5" width="7.3" height="0.9"/><rect x="452.4" y="231.7" width="7.3" height="0.9"/><rect x="464.5" y="200.0" width="7.3" height="0.9"/><rect x="464.5" y="204.1" width="7.3" height="0.9"/><rect x="464.5" y="208.3" width="7.3" height="0.9"/><rect x="464.5" y="212.5" width="7.3" height="0.9"/><rect x="464.5" y="216.7" width="7.3" height="0.9"/><rect x="464.5" y="220.9" width="7.3" height="0.9"/><rect x="464.5" y="225.0" width="7.3" height="0.9"/><rect x="464.5" y="229.2" width="7.3" height="0.9"/><rect x="464.5" y="233.4" width="7.3" height="0.9"/><rect x="476.7" y="201.4" width="7.3" height="0.9"/><rect x="476.7" y="205.6" width="7.3" height="0.9"/><rect x="476.7" y="209.8" width="7.3" height="0.9"/><rect x="476.7" y="214.1" width="7.3" height="0.9"/><rect x="476.7" y="218.3" width="7.3" height="0.9"/><rect x="476.7" y="222.5" width="7.3" height="0.9"/><rect x="476.7" y="226.7" width="7.3" height="0.9"/><rect x="476.7" y="230.9" width="7.3" height="0.9"/><rect x="476.7" y="235.2" width="7.3" height="0.9"/><rect x="488.9" y="202.8" width="7.3" height="0.9"/><rect x="488.9" y="207.1" width="7.3" height="0.9"/><rect x="488.9" y="211.4" width="7.3" height="0.9"/><rect x="488.9" y="215.6" width="7.3" height="0.9"/><rect x="488.9" y="219.9" width="7.3" height="0.9"/><rect x="488.9" y="224.1" width="7.3" height="0.9"/><rect x="488.9" y="228.4" width="7.3" height="0.9"/><rect x="488.9" y="232.6" width="7.3" height="0.9"/><rect x="488.9" y="236.9" width="7.3" height="0.9"/><rect x="501.0" y="204.3" width="7.3" height="0.9"/><rect x="501.0" y="208.6" width="7.3" height="0.9"/><rect x="501.0" y="212.9" width="7.3" height="0.9"/><rect x="501.0" y="217.2" width="7.3" height="0.9"/><rect x="501.0" y="221.5" width="7.3" height="0.9"/><rect x="501.0" y="225.8" width="7.3" height="0.9"/><rect x="501.0" y="230.1" width="7.3" height="0.9"/><rect x="501.0" y="234.4" width="7.3" height="0.9"/><rect x="501.0" y="238.7" width="7.3" height="0.9"/><rect x="513.2" y="205.7" width="7.3" height="0.9"/><rect x="513.2" y="210.0" width="7.3" height="0.9"/><rect x="513.2" y="214.4" width="7.3" height="0.9"/><rect x="513.2" y="218.7" width="7.3" height="0.9"/><rect x="513.2" y="223.1" width="7.3" height="0.9"/><rect x="513.2" y="227.4" width="7.3" height="0.9"/><rect x="513.2" y="231.7" width="7.3" height="0.9"/><rect x="513.2" y="236.1" width="7.3" height="0.9"/><rect x="513.2" y="240.4" width="7.3" height="0.9"/><rect x="525.4" y="207.2" width="7.3" height="0.9"/><rect x="525.4" y="211.5" width="7.3" height="0.9"/><rect x="525.4" y="215.9" width="7.3" height="0.9"/><rect x="525.4" y="220.3" width="7.3" height="0.9"/><rect x="525.4" y="224.7" width="7.3" height="0.9"/><rect x="525.4" y="229.0" width="7.3" height="0.9"/><rect x="525.4" y="233.4" width="7.3" height="0.9"/><rect x="525.4" y="237.8" width="7.3" height="0.9"/><rect x="525.4" y="242.2" width="7.3" height="0.9"/></g>
<g fill="#f0f0f0"><rect x="76.8" y="159.5" width="2.0" height="1.0"/><rect x="76.8" y="161.8" width="2.0" height="1.0"/><rect x="76.8" y="164.0" width="2.0" height="1.0"/><rect x="76.8" y="166.2" width="2.0" height="1.0"/><rect x="76.8" y="168.5" width="2.0" height="1.0"/><rect x="76.8" y="170.8" width="2.0" height="1.0"/><rect x="76.8" y="173.0" width="2.0" height="1.0"/><rect x="76.8" y="175.2" width="2.0" height="1.0"/><rect x="76.8" y="177.5" width="2.0" height="1.0"/><rect x="80.1" y="159.7" width="2.0" height="1.0"/><rect x="80.1" y="162.0" width="2.0" height="1.0"/><rect x="80.1" y="164.2" width="2.0" height="1.0"/><rect x="80.1" y="166.5" width="2.0" height="1.0"/><rect x="80.1" y="168.8" width="2.0" height="1.0"/><rect x="80.1" y="171.1" width="2.0" height="1.0"/><rect x="80.1" y="173.3" width="2.0" height="1.0"/><rect x="80.1" y="175.6" width="2.0" height="1.0"/><rect x="80.1" y="177.9" width="2.0" height="1.0"/><rect x="83.4" y="159.9" width="2.0" height="1.0"/><rect x="83.4" y="162.2" width="2.0" height="1.0"/><rect x="83.4" y="164.5" width="2.0" height="1.0"/><rect x="83.4" y="166.8" width="2.0" height="1.0"/><rect x="83.4" y="169.1" width="2.0" height="1.0"/><rect x="83.4" y="171.4" width="2.0" height="1.0"/><rect x="83.4" y="173.7" width="2.0" height="1.0"/><rect x="83.4" y="176.0" width="2.0" height="1.0"/><rect x="83.4" y="178.3" width="2.0" height="1.0"/><rect x="86.8" y="160.1" width="2.0" height="1.0"/><rect x="86.8" y="162.4" width="2.0" height="1.0"/><rect x="86.8" y="164.8" width="2.0" height="1.0"/><rect x="86.8" y="167.1" width="2.0" height="1.0"/><rect x="86.8" y="169.4" width="2.0" height="1.0"/><rect x="86.8" y="171.7" width="2.0" height="1.0"/><rect x="86.8" y="174.0" width="2.0" height="1.0"/><rect x="86.8" y="176.4" width="2.0" height="1.0"/><rect x="86.8" y="178.7" width="2.0" height="1.0"/><rect x="90.1" y="160.3" width="2.0" height="1.0"/><rect x="90.1" y="162.7" width="2.0" height="1.0"/><rect x="90.1" y="165.0" width="2.0" height="1.0"/><rect x="90.1" y="167.3" width="2.0" height="1.0"/><rect x="90.1" y="169.7" width="2.0" height="1.0"/><rect x="90.1" y="172.1" width="2.0" height="1.0"/><rect x="90.1" y="174.4" width="2.0" height="1.0"/><rect x="90.1" y="176.8" width="2.0" height="1.0"/><rect x="90.1" y="179.1" width="2.0" height="1.0"/><rect x="93.4" y="160.5" width="2.0" height="1.0"/><rect x="93.4" y="162.9" width="2.0" height="1.0"/><rect x="93.4" y="165.2" width="2.0" height="1.0"/><rect x="93.4" y="167.6" width="2.0" height="1.0"/><rect x="93.4" y="170.0" width="2.0" height="1.0"/><rect x="93.4" y="172.4" width="2.0" height="1.0"/><rect x="93.4" y="174.8" width="2.0" height="1.0"/><rect x="93.4" y="177.1" width="2.0" height="1.0"/><rect x="93.4" y="179.5" width="2.0" height="1.0"/><rect x="99.1" y="162.4" width="2.2" height="1.1"/><rect x="99.1" y="165.1" width="2.2" height="1.1"/><rect x="99.1" y="167.7" width="2.2" height="1.1"/><rect x="99.1" y="170.3" width="2.2" height="1.1"/><rect x="99.1" y="172.9" width="2.2" height="1.1"/><rect x="99.1" y="175.6" width="2.2" height="1.1"/><rect x="99.1" y="178.2" width="2.2" height="1.1"/><rect x="99.1" y="180.8" width="2.2" height="1.1"/><rect x="99.1" y="183.4" width="2.2" height="1.1"/><rect x="102.7" y="162.8" width="2.2" height="1.1"/><rect x="102.7" y="165.4" width="2.2" height="1.1"/><rect x="102.7" y="168.1" width="2.2" height="1.1"/><rect x="102.7" y="170.7" width="2.2" height="1.1"/><rect x="102.7" y="173.4" width="2.2" height="1.1"/><rect x="102.7" y="176.0" width="2.2" height="1.1"/><rect x="102.7" y="178.7" width="2.2" height="1.1"/><rect x="102.7" y="181.3" width="2.2" height="1.1"/><rect x="102.7" y="183.9" width="2.2" height="1.1"/><rect x="106.4" y="163.1" width="2.2" height="1.1"/><rect x="106.4" y="165.8" width="2.2" height="1.1"/><rect x="106.4" y="168.4" width="2.2" height="1.1"/><rect x="106.4" y="171.1" width="2.2" height="1.1"/><rect x="106.4" y="173.8" width="2.2" height="1.1"/><rect x="106.4" y="176.4" width="2.2" height="1.1"/><rect x="106.4" y="179.1" width="2.2" height="1.1"/><rect x="106.4" y="181.8" width="2.2" height="1.1"/><rect x="106.4" y="184.4" width="2.2" height="1.1"/><rect x="110.0" y="163.4" width="2.2" height="1.1"/><rect x="110.0" y="166.1" width="2.2" height="1.1"/><rect x="110.0" y="168.8" width="2.2" height="1.1"/><rect x="110.0" y="171.5" width="2.2" height="1.1"/><rect x="110.0" y="174.2" width="2.2" height="1.1"/><rect x="110.0" y="176.9" width="2.2" height="1.1"/><rect x="110.0" y="179.6" width="2.2" height="1.1"/><rect x="110.0" y="182.3" width="2.2" height="1.1"/><rect x="110.0" y="184.9" width="2.2" height="1.1"/><rect x="113.6" y="163.8" width="2.2" height="1.1"/><rect x="113.6" y="166.5" width="2.2" height="1.1"/><rect x="113.6" y="169.2" width="2.2" height="1.1"/><rect x="113.6" y="171.9" width="2.2" height="1.1"/><rect x="113.6" y="174.6" width="2.2" height="1.1"/><rect x="113.6" y="177.3" width="2.2" height="1.1"/><rect x="113.6" y="180.0" width="2.2" height="1.1"/><rect x="113.6" y="182.7" width="2.2" height="1.1"/><rect x="113.6" y="185.4" width="2.2" height="1.1"/><rect x="117.3" y="164.1" width="2.2" height="1.1"/><rect x="117.3" y="166.8" width="2.2" height="1.1"/><rect x="117.3" y="169.6" width="2.2" height="1.1"/><rect x="117.3" y="172.3" width="2.2" height="1.1"/><rect x="117.3" y="175.0" width="2.2" height="1.1"/><rect x="117.3" y="177.8" width="2.2" height="1.1"/><rect x="117.3" y="180.5" width="2.2" height="1.1"/><rect x="117.3" y="183.2" width="2.2" height="1.1"/><rect x="117.3" y="185.9" width="2.2" height="1.1"/><rect x="120.9" y="164.4" width="2.2" height="1.1"/><rect x="120.9" y="167.2" width="2.2" height="1.1"/><rect x="120.9" y="169.9" width="2.2" height="1.1"/><rect x="120.9" y="172.7" width="2.2" height="1.1"/><rect x="120.9" y="175.4" width="2.2" height="1.1"/><rect x="120.9" y="178.2" width="2.2" height="1.1"/><rect x="120.9" y="180.9" width="2.2" height="1.1"/><rect x="120.9" y="183.7" width="2.2" height="1.1"/><rect x="120.9" y="186.4" width="2.2" height="1.1"/><rect x="128.6" y="166.9" width="2.8" height="1.3"/><rect x="128.6" y="169.6" width="2.8" height="1.3"/><rect x="128.6" y="172.3" width="2.8" height="1.3"/><rect x="128.6" y="175.0" width="2.8" height="1.3"/><rect x="128.6" y="177.7" width="2.8" height="1.3"/><rect x="128.6" y="180.3" width="2.8" height="1.3"/><rect x="128.6" y="183.0" width="2.8" height="1.3"/><rect x="128.6" y="185.7" width="2.8" height="1.3"/><rect x="128.6" y="188.3" width="2.8" height="1.3"/><rect x="133.3" y="167.3" width="2.8" height="1.3"/><rect x="133.3" y="170.0" width="2.8" height="1.3"/><rect x="133.3" y="172.7" width="2.8" height="1.3"/><rect x="133.3" y="175.4" width="2.8" height="1.3"/><rect x="133.3" y="178.1" width="2.8" height="1.3"/><rect x="133.3" y="180.8" width="2.8" height="1.3"/><rect x="133.3" y="183.5" width="2.8" height="1.3"/><rect x="133.3" y="186.2" width="2.8" height="1.3"/><rect x="133.3" y="188.9" width="2.8" height="1.3"/><rect x="138.0" y="167.6" width="2.8" height="1.3"/><rect x="138.0" y="170.4" width="2.8" height="1.3"/><rect x="138.0" y="173.1" width="2.8" height="1.3"/><rect x="138.0" y="175.8" width="2.8" height="1.3"/><rect x="138.0" y="178.6" width="2.8" height="1.3"/><rect x="138.0" y="181.3" width="2.8" height="1.3"/><rect x="138.0" y="184.0" width="2.8" height="1.3"/><rect x="138.0" y="186.8" width="2.8" height="1.3"/><rect x="138.0" y="189.5" width="2.8" height="1.3"/><rect x="142.7" y="168.0" width="2.8" height="1.3"/><rect x="142.7" y="170.7" width="2.8" height="1.3"/><rect x="142.7" y="173.5" width="2.8" height="1.3"/><rect x="142.7" y="176.3" width="2.8" height="1.3"/><rect x="142.7" y="179.0" width="2.8" height="1.3"/><rect x="142.7" y="181.8" width="2.8" height="1.3"/><rect x="142.7" y="184.5" width="2.8" height="1.3"/><rect x="142.7" y="187.3" width="2.8" height="1.3"/><rect x="142.7" y="190.1" width="2.8" height="1.3"/><rect x="147.4" y="168.3" width="2.8" height="1.3"/><rect x="147.4" y="171.1" width="2.8" height="1.3"/><rect x="147.4" y="173.9" width="2.8" height="1.3"/><rect x="147.4" y="176.7" width="2.8" height="1.3"/><rect x="147.4" y="179.5" width="2.8" height="1.3"/><rect x="147.4" y="182.3" width="2.8" height="1.3"/><rect x="147.4" y="185.1" width="2.8" height="1.3"/><rect x="147.4" y="187.8" width="2.8" height="1.3"/><rect x="147.4" y="190.6" width="2.8" height="1.3"/><rect x="152.2" y="168.7" width="2.8" height="1.3"/><rect x="152.2" y="171.5" width="2.8" height="1.3"/><rect x="152.2" y="174.3" width="2.8" height="1.3"/><rect x="152.2" y="177.1" width="2.8" height="1.3"/><rect x="152.2" y="179.9" width="2.8" height="1.3"/><rect x="152.2" y="182.8" width="2.8" height="1.3"/><rect x="152.2" y="185.6" width="2.8" height="1.3"/><rect x="152.2" y="188.4" width="2.8" height="1.3"/><rect x="152.2" y="191.2" width="2.8" height="1.3"/><rect x="156.9" y="169.0" width="2.8" height="1.3"/><rect x="156.9" y="171.9" width="2.8" height="1.3"/><rect x="156.9" y="174.7" width="2.8" height="1.3"/><rect x="156.9" y="177.5" width="2.8" height="1.3"/><rect x="156.9" y="180.4" width="2.8" height="1.3"/><rect x="156.9" y="183.2" width="2.8" height="1.3"/><rect x="156.9" y="186.1" width="2.8" height="1.3"/><rect x="156.9" y="188.9" width="2.8" height="1.3"/><rect x="156.9" y="191.8" width="2.8" height="1.3"/><rect x="161.6" y="169.3" width="2.8" height="1.3"/><rect x="161.6" y="172.2" width="2.8" height="1.3"/><rect x="161.6" y="175.1" width="2.8" height="1.3"/><rect x="161.6" y="178.0" width="2.8" height="1.3"/><rect x="161.6" y="180.8" width="2.8" height="1.3"/><rect x="161.6" y="183.7" width="2.8" height="1.3"/><rect x="161.6" y="186.6" width="2.8" height="1.3"/><rect x="161.6" y="189.5" width="2.8" height="1.3"/><rect x="161.6" y="192.3" width="2.8" height="1.3"/><rect x="171.7" y="170.2" width="2.6" height="1.5"/><rect x="171.7" y="173.0" width="2.6" height="1.5"/><rect x="171.7" y="175.8" width="2.6" height="1.5"/><rect x="171.7" y="178.5" width="2.6" height="1.5"/><rect x="171.7" y="181.2" width="2.6" height="1.5"/><rect x="171.7" y="184.0" width="2.6" height="1.5"/><rect x="171.7" y="186.8" width="2.6" height="1.5"/><rect x="171.7" y="189.5" width="2.6" height="1.5"/><rect x="171.7" y="192.2" width="2.6" height="1.5"/><rect x="176.1" y="170.8" width="2.6" height="1.5"/><rect x="176.1" y="173.5" width="2.6" height="1.5"/><rect x="176.1" y="176.3" width="2.6" height="1.5"/><rect x="176.1" y="179.0" width="2.6" height="1.5"/><rect x="176.1" y="181.8" width="2.6" height="1.5"/><rect x="176.1" y="184.5" width="2.6" height="1.5"/><rect x="176.1" y="187.3" width="2.6" height="1.5"/><rect x="176.1" y="190.1" width="2.6" height="1.5"/><rect x="176.1" y="192.8" width="2.6" height="1.5"/><rect x="180.4" y="171.2" width="2.6" height="1.5"/><rect x="180.4" y="174.0" width="2.6" height="1.5"/><rect x="180.4" y="176.8" width="2.6" height="1.5"/><rect x="180.4" y="179.6" width="2.6" height="1.5"/><rect x="180.4" y="182.3" width="2.6" height="1.5"/><rect x="180.4" y="185.1" width="2.6" height="1.5"/><rect x="180.4" y="187.9" width="2.6" height="1.5"/><rect x="180.4" y="190.6" width="2.6" height="1.5"/><rect x="180.4" y="193.4" width="2.6" height="1.5"/><rect x="184.8" y="171.8" width="2.6" height="1.5"/><rect x="184.8" y="174.5" width="2.6" height="1.5"/><rect x="184.8" y="177.3" width="2.6" height="1.5"/><rect x="184.8" y="180.1" width="2.6" height="1.5"/><rect x="184.8" y="182.9" width="2.6" height="1.5"/><rect x="184.8" y="185.6" width="2.6" height="1.5"/><rect x="184.8" y="188.4" width="2.6" height="1.5"/><rect x="184.8" y="191.2" width="2.6" height="1.5"/><rect x="184.8" y="194.0" width="2.6" height="1.5"/><rect x="189.2" y="172.2" width="2.6" height="1.5"/><rect x="189.2" y="175.0" width="2.6" height="1.5"/><rect x="189.2" y="177.8" width="2.6" height="1.5"/><rect x="189.2" y="180.6" width="2.6" height="1.5"/><rect x="189.2" y="183.4" width="2.6" height="1.5"/><rect x="189.2" y="186.2" width="2.6" height="1.5"/><rect x="189.2" y="189.0" width="2.6" height="1.5"/><rect x="189.2" y="191.8" width="2.6" height="1.5"/><rect x="189.2" y="194.6" width="2.6" height="1.5"/><rect x="193.6" y="172.8" width="2.6" height="1.5"/><rect x="193.6" y="175.5" width="2.6" height="1.5"/><rect x="193.6" y="178.3" width="2.6" height="1.5"/><rect x="193.6" y="181.1" width="2.6" height="1.5"/><rect x="193.6" y="183.9" width="2.6" height="1.5"/><rect x="193.6" y="186.7" width="2.6" height="1.5"/><rect x="193.6" y="189.5" width="2.6" height="1.5"/><rect x="193.6" y="192.3" width="2.6" height="1.5"/><rect x="193.6" y="195.1" width="2.6" height="1.5"/><rect x="197.9" y="173.2" width="2.6" height="1.5"/><rect x="197.9" y="176.1" width="2.6" height="1.5"/><rect x="197.9" y="178.9" width="2.6" height="1.5"/><rect x="197.9" y="181.7" width="2.6" height="1.5"/><rect x="197.9" y="184.5" width="2.6" height="1.5"/><rect x="197.9" y="187.3" width="2.6" height="1.5"/><rect x="197.9" y="190.1" width="2.6" height="1.5"/><rect x="197.9" y="192.9" width="2.6" height="1.5"/><rect x="197.9" y="195.7" width="2.6" height="1.5"/><rect x="202.3" y="173.8" width="2.6" height="1.5"/><rect x="202.3" y="176.6" width="2.6" height="1.5"/><rect x="202.3" y="179.4" width="2.6" height="1.5"/><rect x="202.3" y="182.2" width="2.6" height="1.5"/><rect x="202.3" y="185.0" width="2.6" height="1.5"/><rect x="202.3" y="187.8" width="2.6" height="1.5"/><rect x="202.3" y="190.6" width="2.6" height="1.5"/><rect x="202.3" y="193.5" width="2.6" height="1.5"/><rect x="202.3" y="196.3" width="2.6" height="1.5"/><rect x="206.7" y="174.2" width="2.6" height="1.5"/><rect x="206.7" y="177.1" width="2.6" height="1.5"/><rect x="206.7" y="179.9" width="2.6" height="1.5"/><rect x="206.7" y="182.7" width="2.6" height="1.5"/><rect x="206.7" y="185.6" width="2.6" height="1.5"/><rect x="206.7" y="188.4" width="2.6" height="1.5"/><rect x="206.7" y="191.2" width="2.6" height="1.5"/><rect x="206.7" y="194.0" width="2.6" height="1.5"/><rect x="206.7" y="196.8" width="2.6" height="1.5"/><rect x="217.5" y="175.2" width="2.9" height="1.6"/><rect x="217.5" y="178.2" width="2.9" height="1.6"/><rect x="217.5" y="181.2" width="2.9" height="1.6"/><rect x="217.5" y="184.2" width="2.9" height="1.6"/><rect x="217.5" y="187.2" width="2.9" height="1.6"/><rect x="217.5" y="190.2" width="2.9" height="1.6"/><rect x="217.5" y="193.2" width="2.9" height="1.6"/><rect x="217.5" y="196.2" width="2.9" height="1.6"/><rect x="217.5" y="199.2" width="2.9" height="1.6"/><rect x="222.4" y="175.5" width="2.9" height="1.6"/><rect x="222.4" y="178.5" width="2.9" height="1.6"/><rect x="222.4" y="181.6" width="2.9" height="1.6"/><rect x="222.4" y="184.6" width="2.9" height="1.6"/><rect x="222.4" y="187.6" width="2.9" height="1.6"/><rect x="222.4" y="190.7" width="2.9" height="1.6"/><rect x="222.4" y="193.7" width="2.9" height="1.6"/><rect x="222.4" y="196.8" width="2.9" height="1.6"/><rect x="222.4" y="199.8" width="2.9" height="1.6"/><rect x="227.3" y="175.7" width="2.9" height="1.6"/><rect x="227.3" y="178.8" width="2.9" height="1.6"/><rect x="227.3" y="181.9" width="2.9" height="1.6"/><rect x="227.3" y="185.0" width="2.9" height="1.6"/><rect x="227.3" y="188.1" width="2.9" height="1.6"/><rect x="227.3" y="191.2" width="2.9" height="1.6"/><rect x="227.3" y="194.3" width="2.9" height="1.6"/><rect x="227.3" y="197.4" width="2.9" height="1.6"/><rect x="227.3" y="200.4" width="2.9" height="1.6"/><rect x="232.2" y="176.0" width="2.9" height="1.6"/><rect x="232.2" y="179.1" width="2.9" height="1.6"/><rect x="232.2" y="182.3" width="2.9" height="1.6"/><rect x="232.2" y="185.4" width="2.9" height="1.6"/><rect x="232.2" y="188.5" width="2.9" height="1.6"/><rect x="232.2" y="191.7" width="2.9" height="1.6"/><rect x="232.2" y="194.8" width="2.9" height="1.6"/><rect x="232.2" y="197.9" width="2.9" height="1.6"/><rect x="232.2" y="201.1" width="2.9" height="1.6"/><rect x="237.1" y="176.3" width="2.9" height="1.6"/><rect x="237.1" y="179.4" width="2.9" height="1.6"/><rect x="237.1" y="182.6" width="2.9" height="1.6"/><rect x="237.1" y="185.8" width="2.9" height="1.6"/><rect x="237.1" y="189.0" width="2.9" height="1.6"/><rect x="237.1" y="192.2" width="2.9" height="1.6"/><rect x="237.1" y="195.3" width="2.9" height="1.6"/><rect x="237.1" y="198.5" width="2.9" height="1.6"/><rect x="237.1" y="201.7" width="2.9" height="1.6"/><rect x="242.0" y="176.5" width="2.9" height="1.6"/><rect x="242.0" y="179.8" width="2.9" height="1.6"/><rect x="242.0" y="183.0" width="2.9" height="1.6"/><rect x="242.0" y="186.2" width="2.9" height="1.6"/><rect x="242.0" y="189.4" width="2.9" height="1.6"/><rect x="242.0" y="192.6" width="2.9" height="1.6"/><rect x="242.0" y="195.9" width="2.9" height="1.6"/><rect x="242.0" y="199.1" width="2.9" height="1.6"/><rect x="242.0" y="202.3" width="2.9" height="1.6"/><rect x="246.9" y="176.8" width="2.9" height="1.6"/><rect x="246.9" y="180.1" width="2.9" height="1.6"/><rect x="246.9" y="183.3" width="2.9" height="1.6"/><rect x="246.9" y="186.6" width="2.9" height="1.6"/><rect x="246.9" y="189.9" width="2.9" height="1.6"/><rect x="246.9" y="193.1" width="2.9" height="1.6"/><rect x="246.9" y="196.4" width="2.9" height="1.6"/><rect x="246.9" y="199.7" width="2.9" height="1.6"/><rect x="246.9" y="202.9" width="2.9" height="1.6"/><rect x="251.8" y="177.1" width="2.9" height="1.6"/><rect x="251.8" y="180.4" width="2.9" height="1.6"/><rect x="251.8" y="183.7" width="2.9" height="1.6"/><rect x="251.8" y="187.0" width="2.9" height="1.6"/><rect x="251.8" y="190.3" width="2.9" height="1.6"/><rect x="251.8" y="193.6" width="2.9" height="1.6"/><rect x="251.8" y="196.9" width="2.9" height="1.6"/><rect x="251.8" y="200.2" width="2.9" height="1.6"/><rect x="251.8" y="203.6" width="2.9" height="1.6"/><rect x="256.6" y="177.3" width="2.9" height="1.6"/><rect x="256.6" y="180.7" width="2.9" height="1.6"/><rect x="256.6" y="184.0" width="2.9" height="1.6"/><rect x="256.6" y="187.4" width="2.9" height="1.6"/><rect x="256.6" y="190.8" width="2.9" height="1.6"/><rect x="256.6" y="194.1" width="2.9" height="1.6"/><rect x="256.6" y="197.5" width="2.9" height="1.6"/><rect x="256.6" y="200.8" width="2.9" height="1.6"/><rect x="256.6" y="204.2" width="2.9" height="1.6"/><rect x="261.5" y="177.6" width="2.9" height="1.6"/><rect x="261.5" y="181.0" width="2.9" height="1.6"/><rect x="261.5" y="184.4" width="2.9" height="1.6"/><rect x="261.5" y="187.8" width="2.9" height="1.6"/><rect x="261.5" y="191.2" width="2.9" height="1.6"/><rect x="261.5" y="194.6" width="2.9" height="1.6"/><rect x="261.5" y="198.0" width="2.9" height="1.6"/><rect x="261.5" y="201.4" width="2.9" height="1.6"/><rect x="261.5" y="204.8" width="2.9" height="1.6"/><rect x="275.0" y="184.2" width="4.0" height="1.7"/><rect x="275.0" y="187.0" width="4.0" height="1.7"/><rect x="275.0" y="189.9" width="4.0" height="1.7"/><rect x="275.0" y="192.8" width="4.0" height="1.7"/><rect x="275.0" y="195.7" width="4.0" height="1.7"/><rect x="275.0" y="198.5" width="4.0" height="1.7"/><rect x="275.0" y="201.4" width="4.0" height="1.7"/><rect x="275.0" y="204.3" width="4.0" height="1.7"/><rect x="275.0" y="207.2" width="4.0" height="1.7"/><rect x="281.7" y="184.3" width="4.0" height="1.7"/><rect x="281.7" y="187.2" width="4.0" height="1.7"/><rect x="281.7" y="190.2" width="4.0" height="1.7"/><rect x="281.7" y="193.2" width="4.0" height="1.7"/><rect x="281.7" y="196.1" width="4.0" height="1.7"/><rect x="281.7" y="199.1" width="4.0" height="1.7"/><rect x="281.7" y="202.0" width="4.0" height="1.7"/><rect x="281.7" y="205.0" width="4.0" height="1.7"/><rect x="281.7" y="208.0" width="4.0" height="1.7"/><rect x="288.4" y="184.4" width="4.0" height="1.7"/><rect x="288.4" y="187.5" width="4.0" height="1.7"/><rect x="288.4" y="190.5" width="4.0" height="1.7"/><rect x="288.4" y="193.6" width="4.0" height="1.7"/><rect x="288.4" y="196.6" width="4.0" height="1.7"/><rect x="288.4" y="199.7" width="4.0" height="1.7"/><rect x="288.4" y="202.7" width="4.0" height="1.7"/><rect x="288.4" y="205.8" width="4.0" height="1.7"/><rect x="288.4" y="208.8" width="4.0" height="1.7"/><rect x="295.1" y="184.5" width="4.0" height="1.7"/><rect x="295.1" y="187.7" width="4.0" height="1.7"/><rect x="295.1" y="190.8" width="4.0" height="1.7"/><rect x="295.1" y="193.9" width="4.0" height="1.7"/><rect x="295.1" y="197.1" width="4.0" height="1.7"/><rect x="295.1" y="200.2" width="4.0" height="1.7"/><rect x="295.1" y="203.3" width="4.0" height="1.7"/><rect x="295.1" y="206.5" width="4.0" height="1.7"/><rect x="295.1" y="209.6" width="4.0" height="1.7"/><rect x="301.8" y="184.7" width="4.0" height="1.7"/><rect x="301.8" y="187.9" width="4.0" height="1.7"/><rect x="301.8" y="191.1" width="4.0" height="1.7"/><rect x="301.8" y="194.3" width="4.0" height="1.7"/><rect x="301.8" y="197.6" width="4.0" height="1.7"/><rect x="301.8" y="200.8" width="4.0" height="1.7"/><rect x="301.8" y="204.0" width="4.0" height="1.7"/><rect x="301.8" y="207.2" width="4.0" height="1.7"/><rect x="301.8" y="210.5" width="4.0" height="1.7"/><rect x="308.5" y="184.8" width="4.0" height="1.7"/><rect x="308.5" y="188.1" width="4.0" height="1.7"/><rect x="308.5" y="191.4" width="4.0" height="1.7"/><rect x="308.5" y="194.7" width="4.0" height="1.7"/><rect x="308.5" y="198.0" width="4.0" height="1.7"/><rect x="308.5" y="201.3" width="4.0" height="1.7"/><rect x="308.5" y="204.7" width="4.0" height="1.7"/><rect x="308.5" y="208.0" width="4.0" height="1.7"/><rect x="308.5" y="211.3" width="4.0" height="1.7"/><rect x="315.2" y="184.9" width="4.0" height="1.7"/><rect x="315.2" y="188.3" width="4.0" height="1.7"/><rect x="315.2" y="191.7" width="4.0" height="1.7"/><rect x="315.2" y="195.1" width="4.0" height="1.7"/><rect x="315.2" y="198.5" width="4.0" height="1.7"/><rect x="315.2" y="201.9" width="4.0" height="1.7"/><rect x="315.2" y="205.3" width="4.0" height="1.7"/><rect x="315.2" y="208.7" width="4.0" height="1.7"/><rect x="315.2" y="212.1" width="4.0" height="1.7"/><rect x="321.9" y="185.0" width="4.0" height="1.7"/><rect x="321.9" y="188.5" width="4.0" height="1.7"/><rect x="321.9" y="192.0" width="4.0" height="1.7"/><rect x="321.9" y="195.5" width="4.0" height="1.7"/><rect x="321.9" y="199.0" width="4.0" height="1.7"/><rect x="321.9" y="202.5" width="4.0" height="1.7"/><rect x="321.9" y="206.0" width="4.0" height="1.7"/><rect x="321.9" y="209.4" width="4.0" height="1.7"/><rect x="321.9" y="212.9" width="4.0" height="1.7"/><rect x="328.6" y="185.2" width="4.0" height="1.7"/><rect x="328.6" y="188.7" width="4.0" height="1.7"/><rect x="328.6" y="192.3" width="4.0" height="1.7"/><rect x="328.6" y="195.9" width="4.0" height="1.7"/><rect x="328.6" y="199.5" width="4.0" height="1.7"/><rect x="328.6" y="203.0" width="4.0" height="1.7"/><rect x="328.6" y="206.6" width="4.0" height="1.7"/><rect x="328.6" y="210.2" width="4.0" height="1.7"/><rect x="328.6" y="213.8" width="4.0" height="1.7"/><rect x="342.8" y="188.4" width="5.0" height="1.8"/><rect x="342.8" y="191.4" width="5.0" height="1.8"/><rect x="342.8" y="194.5" width="5.0" height="1.8"/><rect x="342.8" y="197.5" width="5.0" height="1.8"/><rect x="342.8" y="200.5" width="5.0" height="1.8"/><rect x="342.8" y="203.5" width="5.0" height="1.8"/><rect x="342.8" y="206.5" width="5.0" height="1.8"/><rect x="342.8" y="209.6" width="5.0" height="1.8"/><rect x="342.8" y="212.6" width="5.0" height="1.8"/><rect x="351.1" y="189.2" width="5.0" height="1.8"/><rect x="351.1" y="192.4" width="5.0" height="1.8"/><rect x="351.1" y="195.5" width="5.0" height="1.8"/><rect x="351.1" y="198.6" width="5.0" height="1.8"/><rect x="351.1" y="201.7" width="5.0" height="1.8"/><rect x="351.1" y="204.9" width="5.0" height="1.8"/><rect x="351.1" y="208.0" width="5.0" height="1.8"/><rect x="351.1" y="211.1" width="5.0" height="1.8"/><rect x="351.1" y="214.2" width="5.0" height="1.8"/><rect x="359.3" y="190.1" width="5.0" height="1.8"/><rect x="359.3" y="193.3" width="5.0" height="1.8"/><rect x="359.3" y="196.5" width="5.0" height="1.8"/><rect x="359.3" y="199.7" width="5.0" height="1.8"/><rect x="359.3" y="203.0" width="5.0" height="1.8"/><rect x="359.3" y="206.2" width="5.0" height="1.8"/><rect x="359.3" y="209.4" width="5.0" height="1.8"/><rect x="359.3" y="212.7" width="5.0" height="1.8"/><rect x="359.3" y="215.9" width="5.0" height="1.8"/><rect x="367.6" y="190.9" width="5.0" height="1.8"/><rect x="367.6" y="194.2" width="5.0" height="1.8"/><rect x="367.6" y="197.5" width="5.0" height="1.8"/><rect x="367.6" y="200.9" width="5.0" height="1.8"/><rect x="367.6" y="204.2" width="5.0" height="1.8"/><rect x="367.6" y="207.5" width="5.0" height="1.8"/><rect x="367.6" y="210.9" width="5.0" height="1.8"/><rect x="367.6" y="214.2" width="5.0" height="1.8"/><rect x="367.6" y="217.5" width="5.0" height="1.8"/><rect x="375.8" y="191.7" width="5.0" height="1.8"/><rect x="375.8" y="195.1" width="5.0" height="1.8"/><rect x="375.8" y="198.6" width="5.0" height="1.8"/><rect x="375.8" y="202.0" width="5.0" height="1.8"/><rect x="375.8" y="205.5" width="5.0" height="1.8"/><rect x="375.8" y="208.9" width="5.0" height="1.8"/><rect x="375.8" y="212.3" width="5.0" height="1.8"/><rect x="375.8" y="215.8" width="5.0" height="1.8"/><rect x="375.8" y="219.2" width="5.0" height="1.8"/><rect x="384.1" y="192.5" width="5.0" height="1.8"/><rect x="384.1" y="196.1" width="5.0" height="1.8"/><rect x="384.1" y="199.6" width="5.0" height="1.8"/><rect x="384.1" y="203.1" width="5.0" height="1.8"/><rect x="384.1" y="206.7" width="5.0" height="1.8"/><rect x="384.1" y="210.2" width="5.0" height="1.8"/><rect x="384.1" y="213.8" width="5.0" height="1.8"/><rect x="384.1" y="217.3" width="5.0" height="1.8"/><rect x="384.1" y="220.8" width="5.0" height="1.8"/><rect x="392.3" y="193.3" width="5.0" height="1.8"/><rect x="392.3" y="197.0" width="5.0" height="1.8"/><rect x="392.3" y="200.6" width="5.0" height="1.8"/><rect x="392.3" y="204.3" width="5.0" height="1.8"/><rect x="392.3" y="207.9" width="5.0" height="1.8"/><rect x="392.3" y="211.6" width="5.0" height="1.8"/><rect x="392.3" y="215.2" width="5.0" height="1.8"/><rect x="392.3" y="218.9" width="5.0" height="1.8"/><rect x="392.3" y="222.5" width="5.0" height="1.8"/><rect x="400.6" y="194.2" width="5.0" height="1.8"/><rect x="400.6" y="197.9" width="5.0" height="1.8"/><rect x="400.6" y="201.7" width="5.0" height="1.8"/><rect x="400.6" y="205.4" width="5.0" height="1.8"/><rect x="400.6" y="209.2" width="5.0" height="1.8"/><rect x="400.6" y="212.9" width="5.0" height="1.8"/><rect x="400.6" y="216.7" width="5.0" height="1.8"/><rect x="400.6" y="220.4" width="5.0" height="1.8"/><rect x="400.6" y="224.1" width="5.0" height="1.8"/><rect x="408.8" y="195.0" width="5.0" height="1.8"/><rect x="408.8" y="198.8" width="5.0" height="1.8"/><rect x="408.8" y="202.7" width="5.0" height="1.8"/><rect x="408.8" y="206.5" width="5.0" height="1.8"/><rect x="408.8" y="210.4" width="5.0" height="1.8"/><rect x="408.8" y="214.2" width="5.0" height="1.8"/><rect x="408.8" y="218.1" width="5.0" height="1.8"/><rect x="408.8" y="221.9" width="5.0" height="1.8"/><rect x="408.8" y="225.8" width="5.0" height="1.8"/><rect x="428.1" y="196.6" width="7.3" height="1.9"/><rect x="428.1" y="200.6" width="7.3" height="1.9"/><rect x="428.1" y="204.7" width="7.3" height="1.9"/><rect x="428.1" y="208.7" width="7.3" height="1.9"/><rect x="428.1" y="212.8" width="7.3" height="1.9"/><rect x="428.1" y="216.9" width="7.3" height="1.9"/><rect x="428.1" y="220.9" width="7.3" height="1.9"/><rect x="428.1" y="225.0" width="7.3" height="1.9"/><rect x="428.1" y="229.1" width="7.3" height="1.9"/><rect x="440.2" y="198.0" width="7.3" height="1.9"/><rect x="440.2" y="202.1" width="7.3" height="1.9"/><rect x="440.2" y="206.2" width="7.3" height="1.9"/><rect x="440.2" y="210.3" width="7.3" height="1.9"/><rect x="440.2" y="214.4" width="7.3" height="1.9"/><rect x="440.2" y="218.5" width="7.3" height="1.9"/><rect x="440.2" y="222.6" width="7.3" height="1.9"/><rect x="440.2" y="226.7" width="7.3" height="1.9"/><rect x="440.2" y="230.8" width="7.3" height="1.9"/><rect x="452.4" y="199.4" width="7.3" height="1.9"/><rect x="452.4" y="203.6" width="7.3" height="1.9"/><rect x="452.4" y="207.7" width="7.3" height="1.9"/><rect x="452.4" y="211.8" width="7.3" height="1.9"/><rect x="452.4" y="216.0" width="7.3" height="1.9"/><rect x="452.4" y="220.1" width="7.3" height="1.9"/><rect x="452.4" y="224.3" width="7.3" height="1.9"/><rect x="452.4" y="228.4" width="7.3" height="1.9"/><rect x="452.4" y="232.6" width="7.3" height="1.9"/><rect x="464.5" y="200.9" width="7.3" height="1.9"/><rect x="464.5" y="205.0" width="7.3" height="1.9"/><rect x="464.5" y="209.2" width="7.3" height="1.9"/><rect x="464.5" y="213.4" width="7.3" height="1.9"/><rect x="464.5" y="217.6" width="7.3" height="1.9"/><rect x="464.5" y="221.8" width="7.3" height="1.9"/><rect x="464.5" y="225.9" width="7.3" height="1.9"/><rect x="464.5" y="230.1" width="7.3" height="1.9"/><rect x="464.5" y="234.3" width="7.3" height="1.9"/><rect x="476.7" y="202.3" width="7.3" height="1.9"/><rect x="476.7" y="206.5" width="7.3" height="1.9"/><rect x="476.7" y="210.7" width="7.3" height="1.9"/><rect x="476.7" y="215.0" width="7.3" height="1.9"/><rect x="476.7" y="219.2" width="7.3" height="1.9"/><rect x="476.7" y="223.4" width="7.3" height="1.9"/><rect x="476.7" y="227.6" width="7.3" height="1.9"/><rect x="476.7" y="231.8" width="7.3" height="1.9"/><rect x="476.7" y="236.1" width="7.3" height="1.9"/><rect x="488.9" y="203.7" width="7.3" height="1.9"/><rect x="488.9" y="208.0" width="7.3" height="1.9"/><rect x="488.9" y="212.3" width="7.3" height="1.9"/><rect x="488.9" y="216.5" width="7.3" height="1.9"/><rect x="488.9" y="220.8" width="7.3" height="1.9"/><rect x="488.9" y="225.0" width="7.3" height="1.9"/><rect x="488.9" y="229.3" width="7.3" height="1.9"/><rect x="488.9" y="233.5" width="7.3" height="1.9"/><rect x="488.9" y="237.8" width="7.3" height="1.9"/><rect x="501.0" y="205.2" width="7.3" height="1.9"/><rect x="501.0" y="209.5" width="7.3" height="1.9"/><rect x="501.0" y="213.8" width="7.3" height="1.9"/><rect x="501.0" y="218.1" width="7.3" height="1.9"/><rect x="501.0" y="222.4" width="7.3" height="1.9"/><rect x="501.0" y="226.7" width="7.3" height="1.9"/><rect x="501.0" y="231.0" width="7.3" height="1.9"/><rect x="501.0" y="235.3" width="7.3" height="1.9"/><rect x="501.0" y="239.6" width="7.3" height="1.9"/><rect x="513.2" y="206.6" width="7.3" height="1.9"/><rect x="513.2" y="210.9" width="7.3" height="1.9"/><rect x="513.2" y="215.3" width="7.3" height="1.9"/><rect x="513.2" y="219.6" width="7.3" height="1.9"/><rect x="513.2" y="224.0" width="7.3" height="1.9"/><rect x="513.2" y="228.3" width="7.3" height="1.9"/><rect x="513.2" y="232.6" width="7.3" height="1.9"/><rect x="513.2" y="237.0" width="7.3" height="1.9"/><rect x="513.2" y="241.3" width="7.3" height="1.9"/><rect x="525.4" y="208.1" width="7.3" height="1.9"/><rect x="525.4" y="212.4" width="7.3" height="1.9"/><rect x="525.4" y="216.8" width="7.3" height="1.9"/><rect x="525.4" y="221.2" width="7.3" height="1.9"/><rect x="525.4" y="225.6" width="7.3" height="1.9"/><rect x="525.4" y="229.9" width="7.3" height="1.9"/><rect x="525.4" y="234.3" width="7.3" height="1.9"/><rect x="525.4" y="238.7" width="7.3" height="1.9"/><rect x="525.4" y="243.1" width="7.3" height="1.9"/></g>
<polyline points="42,181 69,184 128,192 168,198.5 214,205 270,215 338,224 422,240 540,259" fill="none" stroke="#888" stroke-width="1"/>
<path d="M49.3257,181 h1.34857 v1.68571 h1.18 l0,1.34857 h-3.70857 z" fill="#3a3a3a"/>
<path d="M71.3106,185 h1.37874 v1.72343 h1.2064 l0,1.37874 h-3.79154 z" fill="#3a3a3a"/>
<path d="M77.3065,185 h1.38697 v1.73371 h1.2136 l0,1.38697 h-3.81417 z" fill="#3a3a3a"/>
<path d="M128.272,193 h1.45691 v1.82114 h1.2748 l0,1.45691 h-4.00651 z" fill="#3a3a3a"/>
<path d="M172.241,199.5 h1.51726 v1.89657 h1.3276 l0,1.51726 h-4.17246 z" fill="#3a3a3a"/>
<path d="M270.174,216 h1.65166 v2.06457 h1.4452 l0,1.65166 h-4.54206 z" fill="#3a3a3a"/>
<path d="M276.17,217 h1.65989 v2.07486 h1.4524 l0,1.65989 h-4.56469 z" fill="#3a3a3a"/>
<path d="M420.071,240 h1.85737 v2.32171 h1.6252 l0,1.85737 h-5.10777 z" fill="#3a3a3a"/>
<path d="M540.988,262 h2.02331 v2.52914 h1.7704 l0,2.02331 h-5.56411 z" fill="#3a3a3a"/>
<path d="M551.981,264 h2.0384 v2.548 h1.7836 l0,2.0384 h-5.6056 z" fill="#3a3a3a"/>
<path d="M666.902,283 h2.19611 v2.74514 h1.9216 l0,2.19611 h-6.03931 z" fill="#3a3a3a"/>
<polygon points="175,132 197.8,132 197.8,157.3 175,157.3" fill="#c2c2c2" stroke="#e2e2e2" stroke-width="1.6"/>
<line x1="198.6" y1="133" x2="198.6" y2="157.3" stroke="#6e6e6e" stroke-width="1.3"/>
<line x1="177" y1="135" x2="195.8" y2="135" stroke="#9a9a9a" stroke-width="0.8"/>
<ellipse cx="185.6" cy="144.4" rx="3.6" ry="4.6" fill="#555" stroke="#e2e2e2" stroke-width="1.1"/>
<path d="M177.06,132 v-6 q0,-3 2.5,-3 q2.5,0 2.5,3 v6" fill="none" stroke="#8c8c8c" stroke-width="1.3"/>
<path d="M178.36,132 v-6 q0,-2 1.2,-2 q1.3,0 1.3,2 v6" fill="none" stroke="#e8e8e8" stroke-width="0.7"/>
<line x1="179.104" y1="143.4" x2="180.016" y2="151.99" stroke="#7a7a7a" stroke-width="1.6"/>
<polygon points="224,133 250,133 250,158 224,158" fill="#c2c2c2" stroke="#e2e2e2" stroke-width="1.6"/>
<line x1="250.8" y1="134" x2="250.8" y2="158" stroke="#6e6e6e" stroke-width="1.3"/>
<line x1="226" y1="136" x2="248" y2="136" stroke="#9a9a9a" stroke-width="0.8"/>
<ellipse cx="236.8" cy="146.8" rx="4.4" ry="5.4" fill="#555" stroke="#e2e2e2" stroke-width="1.1"/>
<path d="M226.7,133 v-6 q0,-3 2.5,-3 q2.5,0 2.5,3 v6" fill="none" stroke="#8c8c8c" stroke-width="1.3"/>
<path d="M228,133 v-6 q0,-2 1.2,-2 q1.3,0 1.3,2 v6" fill="none" stroke="#e8e8e8" stroke-width="0.7"/>
<line x1="228.68" y1="145.8" x2="229.72" y2="154.3" stroke="#7a7a7a" stroke-width="1.6"/>
<polygon points="284,136 315,136 315,163 284,163" fill="#c2c2c2" stroke="#e2e2e2" stroke-width="1.6"/>
<line x1="315.8" y1="137" x2="315.8" y2="163" stroke="#6e6e6e" stroke-width="1.3"/>
<line x1="286" y1="139" x2="313" y2="139" stroke="#9a9a9a" stroke-width="0.8"/>
<ellipse cx="299.3" cy="150" rx="5.4" ry="6.3" fill="#555" stroke="#e2e2e2" stroke-width="1.1"/>
<path d="M287.7,136 v-6 q0,-3 2.5,-3 q2.5,0 2.5,3 v6" fill="none" stroke="#8c8c8c" stroke-width="1.3"/>
<path d="M289,136 v-6 q0,-2 1.2,-2 q1.3,0 1.3,2 v6" fill="none" stroke="#e8e8e8" stroke-width="0.7"/>
<line x1="289.58" y1="149" x2="290.82" y2="158.1" stroke="#7a7a7a" stroke-width="1.6"/>
<polygon points="356.2,136.9 395.6,136.9 395.6,170.6 356.2,170.6" fill="#c2c2c2" stroke="#e2e2e2" stroke-width="1.6"/>
<line x1="396.4" y1="137.9" x2="396.4" y2="170.6" stroke="#6e6e6e" stroke-width="1.3"/>
<line x1="358.2" y1="139.9" x2="393.6" y2="139.9" stroke="#9a9a9a" stroke-width="0.8"/>
<ellipse cx="375.2" cy="154" rx="7.2" ry="7.6" fill="#555" stroke="#e2e2e2" stroke-width="1.1"/>
<path d="M361.58,136.9 v-6 q0,-3 2.5,-3 q2.5,0 2.5,3 v6" fill="none" stroke="#8c8c8c" stroke-width="1.3"/>
<path d="M362.88,136.9 v-6 q0,-2 1.2,-2 q1.3,0 1.3,2 v6" fill="none" stroke="#e8e8e8" stroke-width="0.7"/>
<line x1="363.292" y1="153" x2="364.868" y2="164.11" stroke="#7a7a7a" stroke-width="1.6"/>
<path d="M158,93 V90 Q158,87 161,87 H178 Q182,87 182,91 V101" fill="none" stroke="#b4b4b4" stroke-width="6"/>
<path d="M158,93 V90 Q158,87 161,87 H178 Q182,87 182,91 V101" fill="none" stroke="#dedede" stroke-width="3.5"/>
<rect x="155.5" y="86" width="2.5" height="4" fill="#e88080"/>
<polygon points="151,93 171,92.5 171,113 151,113" fill="#d8d8d8" stroke="#b0b0b0" stroke-width="0.8"/>
<line x1="149" y1="96" x2="149" y2="110" stroke="#bbb" stroke-width="1"/>
<polygon points="154,98 160,98 160,106 154,106" fill="#8a8a8a" />
<polygon points="155,100 159,100 159,104 155,104" fill="#e6e6e6" />
<line x1="161" y1="97" x2="161" y2="107" stroke="#555" stroke-width="1.2"/>
<rect x="153" y="108" width="9" height="2" fill="#777"/>
<polygon points="164,110 171.5,110 171.5,118.5 164,118.5" fill="#3e3e3e" />
<polygon points="165.5,111.5 170,111.5 170,117 165.5,117" fill="#6a6a6a" />
<path d="M179,109 l2.5,5 h-5z M179,116 l2.5,5 h-5z" fill="#555"/>
<circle cx="231" cy="112" r="2" fill="#666"/>
<circle cx="364" cy="110" r="2.2" fill="#666"/>
<path d="M204,99 V92 Q204,89 207,89 H246 Q249,89 249,92 V99" fill="none" stroke="#7f7f7f" stroke-width="2.5"/>
<path d="M228,99 V80 Q228,72 238,71 L335,64 Q345,64 345,74 V96" fill="none" stroke="#9c9c9c" stroke-width="12"/>
<path d="M228,99 V80 Q228,72 238,71 L335,64 Q345,64 345,74 V96" fill="none" stroke="#c4c4c4" stroke-width="8.5"/>
<path d="M230.5,99 V81 Q230.5,75 238,74.2 L335,67.2 Q342,67 342,74 V96" fill="none" stroke="#e8e8e8" stroke-width="2"/>
<path d="M225,99 V80 Q225,69 238,68 L335,61" fill="none" stroke="#dcdcdc" stroke-width="1.2"/>
<path d="M291,74 L326,72 Q326,88 309,88 Q291,88 291,74z" fill="#bababa" stroke="#9a9a9a" stroke-width="0.8"/>
<path d="M296,76 Q300,84 310,84 Q318,84 321,78" fill="none" stroke="#8e8e8e" stroke-width="1.2"/>
<polygon points="288,58 322,57 323,61 287,62" fill="#cfcfcf" />
<polygon points="295,52 312,51 314,58 294,58" fill="#dadada" stroke="#aaa" stroke-width="0.8"/>
<line x1="303" y1="88" x2="303" y2="96" stroke="#999" stroke-width="1.5"/><line x1="318" y1="85" x2="318" y2="96" stroke="#999" stroke-width="1.5"/>
<path d="M337,96 V50 Q337,46 341,46 L433,60 Q437,61 437,65 V80 Q437,84 441,84" fill="none" stroke="#8a8a8a" stroke-width="2.4"/>
<path d="M337,96 V50 Q337,46 341,46 L433,60 Q437,61 437,65 V80 Q437,84 441,84" fill="none" stroke="#dadada" stroke-width="0.8"/>
<path d="M366,96 V59 Q366,55 370,55 L432,65" fill="none" stroke="#8a8a8a" stroke-width="2.4"/>
<path d="M366,96 V59 Q366,55 370,55 L432,65" fill="none" stroke="#dadada" stroke-width="0.8"/>
<path d="M410,96 V70 Q410,66 414,66 L428,67" fill="none" stroke="#8a8a8a" stroke-width="2.4"/>
<path d="M410,96 V70 Q410,66 414,66 L428,67" fill="none" stroke="#dadada" stroke-width="0.8"/>
<polygon points="427,68 467,67 467,95 427,95" fill="#e2e2e2" stroke="#bdbdbd" stroke-width="1"/>
<polygon points="431,71 455,71 455,95 431,95" fill="#d2d2d2" stroke="#c4c4c4" stroke-width="0.8"/>
<path d="M437,62 V78 Q437,84 443,84" fill="none" stroke="#8a8a8a" stroke-width="2.2"/>
<rect x="439" y="84" width="9" height="11" fill="#b5b5b5"/>
<polygon points="267,106.5 277.5,112 277.5,123 267,128.5 258.5,123 258.5,112" fill="#26338f"/>
<polygon points="262,114.5 271.5,111.5 271.5,115 262,118" fill="#e4e4e4"/>
<polygon points="262,121 268,118 268,123.5" fill="#e4e4e4"/>
<g stroke="#2a2a2a" stroke-width="1" fill="none"><path d="M254,129.5 h5 M254,132 h5 M256,129 v7 M254,135.5 h5 M261,129 v7 M261,129.5 h5 v6.5 M264,132 v4 M269,129.5 h6 M270,129 v7 M272,132 h3 v4 h-3 M277,129.5 h6 v6.5 h-6z M277,132.5 h6"/></g>
<polygon points="253,137 283,137 283,138.5 253,138.5" fill="#777" />
<polygon points="541,174 577,168 693,173 679,188 541,182" fill="#e6e6e6" />
<polygon points="545,177 668,177 674,186 545,182" fill="#f6f6f6" />
<polygon points="637,172 693,174 680,186 676,186 668,178" fill="#8a8a8a" />
<line x1="577" y1="168" x2="693" y2="173.5" stroke="#9a9a9a" stroke-width="1"/>
<polygon points="541,182 679,188 679,281 541,261" fill="url(#exitf)" />
<polygon points="679,188 694,174 694,272 679,281" fill="url(#sideg)" />
<line x1="541" y1="182" x2="679" y2="188" stroke="#e0e0e0" stroke-width="1.5"/>
<circle cx="536" cy="193" r="3.5" fill="#d8d8d8" stroke="#6a6a6a" stroke-width="1.2"/>
<path d="M539,193 H543 V186" fill="none" stroke="#555" stroke-width="1.5"/>
<line x1="679" y1="188" x2="679" y2="281" stroke="#e6e6e6" stroke-width="1.2"/>
</g>
<defs>
<clipPath id="cg"><circle cx="132" cy="332.5" r="94.5"/></clipPath>
<clipPath id="cd"><circle cx="556.5" cy="381.5" r="95"/></clipPath>
<clipPath id="cdw"><path d="M462,342 L473,341 L487,319 L508,308 L540,297 L572,292 L601,296 L620,306 L636,322 L648,338 L660,350 L660,480 L455,480 L455,342z"/></clipPath>
<filter id="b6" x="-50%" y="-50%" width="200%" height="200%"><feGaussianBlur stdDeviation="6"/></filter>
<filter id="b4" x="-50%" y="-50%" width="200%" height="200%"><feGaussianBlur stdDeviation="4"/></filter>
<filter id="b3" x="-50%" y="-50%" width="200%" height="200%"><feGaussianBlur stdDeviation="3"/></filter>
<filter id="b2" x="-50%" y="-50%" width="200%" height="200%"><feGaussianBlur stdDeviation="2.4"/></filter>
<filter id="b1" x="-50%" y="-50%" width="200%" height="200%"><feGaussianBlur stdDeviation="0.8"/></filter>
</defs>
<circle cx="135" cy="329.5" r="95.5" fill="#1d55d6"/>
<g clip-path="url(#cg)">
<rect x="30" y="230" width="210" height="210" fill="#78a62c"/>
<g filter="url(#b3)">
<path d="M30,292 Q90,262 240,270 L240,225 L30,225 Z" fill="#a6c23e"/>
<path d="M150,262 Q200,262 240,275 L240,300 Q190,285 150,280z" fill="#8cb236"/>
<path d="M30,290 Q150,282 240,288 L240,358 L30,358 Z" fill="#4a8329"/>
<path d="M30,285 Q70,290 95,296 Q80,302 60,304 L30,306Z" fill="#98bb34"/>
<path d="M30,304 Q70,306 100,318 Q130,332 152,358 L30,358 Z" fill="#c0d21a"/>
<path d="M30,384 L120,384 Q110,412 50,435 L30,435Z" fill="#9cc02a"/>
<path d="M135,384 L240,384 L240,435 L50,435 Q120,412 135,384Z" fill="#68a02e"/>
<path d="M60,432 Q150,410 240,420 L240,440 L60,440z" fill="#a3c634"/>
<ellipse cx="212" cy="272" rx="16" ry="22" fill="#6a9c2e"/>
<ellipse cx="150" cy="322" rx="22" ry="10" fill="#5b9430"/>
</g>
<g filter="url(#b2)" fill="none">
<path d="M65,287 Q120,266 220,274" stroke="#6e9c2e" stroke-width="5"/>
<path d="M30,336 Q80,336 135,328" stroke="#86ab28" stroke-width="5"/>
<path d="M60,300 Q120,292 190,300" stroke="#5f962c" stroke-width="4"/>
<path d="M60,418 Q130,395 220,382" stroke="#c2d830" stroke-width="8"/>
<path d="M90,425 Q150,408 220,402" stroke="#7fae30" stroke-width="4"/>
<path d="M100,252 Q140,242 150,244" stroke="#c8dc90" stroke-width="4"/>
<path d="M75,272 Q140,262 200,270" stroke="#bcd47a" stroke-width="2"/>
<path d="M70,292 Q140,282 215,288" stroke="#4f8a2a" stroke-width="6"/>
</g>
<g filter="url(#b1)" fill="#fbfbf0">
<path d="M92,281 Q110,276 130,276 Q150,275 163,276 L161,279 Q130,281 92,283z"/>
<ellipse cx="72" cy="289" rx="7" ry="2"/>
<path d="M38,311 L58,306 L56,312 L40,316z"/>
<ellipse cx="192" cy="292" rx="5" ry="1.6"/>
<ellipse cx="216" cy="342" rx="6" ry="2"/>
<path d="M122,410 Q126,404 140,402 Q160,398 171,397 L168,401 Q158,404 150,406 Q140,410 124,412z"/>
<ellipse cx="95" cy="268" rx="20" ry="1.5" fill-opacity="0.5"/>
</g>
</g>
<circle cx="560.6" cy="381.5" r="94.8" fill="#1d55d6"/>
<circle cx="556.5" cy="381.5" r="94.4" fill="#fff"/>
<g clip-path="url(#cd)"><g clip-path="url(#cdw)">
<rect x="455" y="280" width="210" height="200" fill="#3b3c37"/>
<g filter="url(#b4)">
<path d="M495,322 L540,302 L580,298 L600,305 L612,322 L590,332 L540,333 L500,336z" fill="#6c6950"/>
<ellipse cx="548" cy="316" rx="30" ry="10" fill="#7f7a5a"/>
<ellipse cx="630" cy="335" rx="18" ry="16" fill="#44453e"/>
<ellipse cx="505" cy="365" rx="45" ry="14" fill="#6a6856"/>
<ellipse cx="590" cy="368" rx="50" ry="10" fill="#55554c"/>
<ellipse cx="500" cy="425" rx="40" ry="14" fill="#262724"/>
<ellipse cx="480" cy="395" rx="25" ry="10" fill="#2c2d2a"/>
</g>
<g filter="url(#b2)">
<path d="M535,392 Q580,386 645,384 L645,400 Q590,406 535,408z" fill="#66665f"/>
<path d="M530,408 Q590,402 660,382 L660,394 Q600,414 530,416z" fill="#6a6548"/>
<path d="M493,447 Q540,430 600,420 L605,428 Q550,440 497,452z" fill="#76766f"/>
<path d="M560,440 Q590,436 615,446 L612,466 Q585,470 565,462z" fill="#686863"/>
<path d="M510,452 Q525,448 542,452 L540,472 Q525,474 512,468z" fill="#57543c"/>
<path d="M470,408 Q510,402 548,404 L548,409 Q510,408 470,413z" fill="#5a5a55"/>
<path d="M500,334 Q560,330 650,338 L650,346 Q560,344 500,342z" fill="#33342f"/>
</g>
<path d="M472,345 L478,333 L484,328 L487,319 L495,315 L503,318 L498,330 L490,347z" fill="#766d3e" filter="url(#b2)"/>
<g filter="url(#b1)" fill="none" stroke="#2e2f2a"><path d="M505,331 Q560,326 615,330" stroke-width="2"/><path d="M530,302 Q570,296 600,300" stroke-width="1.5"/></g>
</g></g>
<polygon points="213.8,226.5 225.3,227 225.5,238.7 216.4,249.4 215.5,237.1 204.5,237.1" fill="#1b4fd2"/>
<polygon points="476.4,273.2 486.4,282.5 486.1,293.5 473.8,294.2 464.1,284.5 476.4,283.8" fill="#1b4fd2"/>
<g font-family="Liberation Sans, sans-serif" font-weight="bold" font-size="16.2" fill="#222">
<text x="290.5" y="267.3">DRYER OVEN</text>
<text x="58.7" y="464.6">BEFORE DRYING</text>
<text x="500.9" y="505.2">AFTER DRYING</text>
</g>
<rect x="0" y="149" width="750" height="30" fill="#fff" fill-opacity="0.3"/>
<rect x="0" y="179" width="750" height="5" fill="rgb(254,254,242)" style="mix-blend-mode:multiply"/>
<rect x="0" y="179" width="750" height="5" fill="rgb(20,85,235)" fill-opacity="0.3"/>
<g font-family="Liberation Sans, sans-serif" font-size="11.9" fill="#000" fill-opacity="0.36"><text x="6.3" y="167.5">baixinmachinery.en.alibaba.com</text><text x="195.2" y="167.5">baixinmachinery.en.alibaba.com</text><text x="383.5" y="167.5">baixinmachinery.en.alibaba.com</text><text x="572.2" y="167.5">baixinmachinery.en.alibaba.com</text></g>
<rect x="0" y="349" width="750" height="30" fill="#fff" fill-opacity="0.3"/>
<rect x="0" y="379" width="750" height="5" fill="rgb(254,254,242)" style="mix-blend-mode:multiply"/>
<rect x="0" y="379" width="750" height="5" fill="rgb(20,85,235)" fill-opacity="0.3"/>
<g font-family="Liberation Sans, sans-serif" font-size="11.9" fill="#000" fill-opacity="0.36"><text x="6.3" y="367.5">baixinmachinery.en.alibaba.com</text><text x="195.2" y="367.5">baixinmachinery.en.alibaba.com</text><text x="383.5" y="367.5">baixinmachinery.en.alibaba.com</text><text x="572.2" y="367.5">baixinmachinery.en.alibaba.com</text></g>
</svg>
</body></html>
